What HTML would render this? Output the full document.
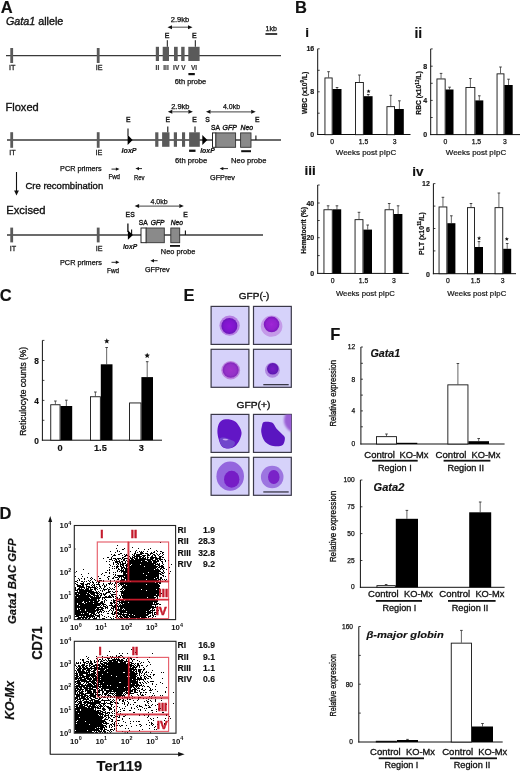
<!DOCTYPE html>
<html><head><meta charset="utf-8"><style>
html,body{margin:0;padding:0;background:#fff;}
svg{display:block;filter:blur(0.3px);}
text{font-family:"Liberation Sans", sans-serif;}
</style></head><body>
<svg width="520" height="773" viewBox="0 0 520 773">
<rect width="520" height="773" fill="#fff"/>
<text x="0.80" y="12.60" font-size="16.5" font-weight="bold" font-style="normal" text-anchor="start" fill="#111"  stroke="#111" stroke-width="0.15">A</text>
<text x="6" y="24.6" font-size="10.7" font-weight="normal" fill="#111" stroke="#111" stroke-width="0.35" textLength="57.3" lengthAdjust="spacingAndGlyphs"><tspan font-style="italic">Gata1</tspan> allele</text>
<line x1="6.00" y1="55.60" x2="281.00" y2="55.60" stroke="#3a3a3a" stroke-width="1.3" />
<rect x="10.30" y="48.00" width="2.80" height="15.00" fill="#5a5a5a" stroke="none" stroke-width="1" />
<rect x="96.80" y="48.00" width="2.80" height="15.00" fill="#5a5a5a" stroke="none" stroke-width="1" />
<rect x="155.80" y="46.80" width="3.20" height="14.20" fill="#5a5a5a" stroke="none" stroke-width="1" />
<rect x="162.70" y="46.80" width="6.30" height="14.20" fill="#5a5a5a" stroke="none" stroke-width="1" />
<rect x="174.00" y="46.80" width="3.70" height="14.20" fill="#5a5a5a" stroke="none" stroke-width="1" />
<rect x="181.20" y="46.80" width="3.40" height="14.20" fill="#5a5a5a" stroke="none" stroke-width="1" />
<rect x="188.30" y="46.80" width="11.30" height="14.20" fill="#5a5a5a" stroke="none" stroke-width="1" />
<line x1="167.30" y1="40.20" x2="167.30" y2="46.80" stroke="#111" stroke-width="1" />
<line x1="195.30" y1="40.20" x2="195.30" y2="46.80" stroke="#111" stroke-width="1" />
<text x="167.00" y="37.80" font-size="7" font-weight="normal" font-style="normal" text-anchor="middle" fill="#111" stroke="#111" stroke-width="0.35">E</text>
<text x="194.30" y="37.80" font-size="7" font-weight="normal" font-style="normal" text-anchor="middle" fill="#111" stroke="#111" stroke-width="0.35">E</text>
<line x1="172.00" y1="27.20" x2="188.00" y2="27.20" stroke="#666" stroke-width="1.2" />
<polygon points="167.50,27.20 172.00,25.20 172.00,29.20" fill="#111"/>
<polygon points="192.50,27.20 188.00,25.20 188.00,29.20" fill="#111"/>
<text x="180.00" y="22.00" font-size="6.8" font-weight="normal" font-style="normal" text-anchor="middle" fill="#111" textLength="18.5" lengthAdjust="spacingAndGlyphs" stroke="#111" stroke-width="0.25">2.9kb</text>
<text x="271.20" y="31.20" font-size="6.6" font-weight="normal" font-style="normal" text-anchor="middle" fill="#111" textLength="11.4" lengthAdjust="spacingAndGlyphs" stroke="#111" stroke-width="0.25">1kb</text>
<rect x="265.40" y="33.20" width="11.80" height="1.60" fill="#111" stroke="none" stroke-width="1" />
<text x="12.20" y="70.30" font-size="7.2" font-weight="normal" font-style="normal" text-anchor="middle" fill="#222" stroke="#222" stroke-width="0.3">IT</text>
<text x="99.10" y="70.30" font-size="7.2" font-weight="normal" font-style="normal" text-anchor="middle" fill="#222" stroke="#222" stroke-width="0.3">IE</text>
<text x="157.40" y="70.00" font-size="6.5" font-weight="bold" font-style="normal" text-anchor="middle" fill="#333"  stroke="#333" stroke-width="0.15">II</text>
<text x="166.00" y="70.00" font-size="6.5" font-weight="bold" font-style="normal" text-anchor="middle" fill="#333"  stroke="#333" stroke-width="0.15">III</text>
<text x="176.20" y="70.00" font-size="6.5" font-weight="bold" font-style="normal" text-anchor="middle" fill="#333"  stroke="#333" stroke-width="0.15">IV</text>
<text x="183.40" y="70.00" font-size="6.5" font-weight="bold" font-style="normal" text-anchor="middle" fill="#333"  stroke="#333" stroke-width="0.15">V</text>
<text x="194.00" y="70.00" font-size="6.5" font-weight="bold" font-style="normal" text-anchor="middle" fill="#333"  stroke="#333" stroke-width="0.15">VI</text>
<rect x="188.40" y="73.00" width="6.40" height="2.20" fill="#111" stroke="none" stroke-width="1" />
<text x="190.50" y="84.00" font-size="7.0" font-weight="normal" font-style="normal" text-anchor="middle" fill="#111" textLength="31.6" lengthAdjust="spacingAndGlyphs" stroke="#111" stroke-width="0.25">6th probe</text>
<text x="5.50" y="110.50" font-size="11" font-weight="normal" font-style="normal" text-anchor="start" fill="#111" textLength="33.2" lengthAdjust="spacingAndGlyphs" stroke="#111" stroke-width="0.35">Floxed</text>
<line x1="7.00" y1="140.00" x2="281.00" y2="140.00" stroke="#3a3a3a" stroke-width="1.3" />
<rect x="10.30" y="132.20" width="2.80" height="15.60" fill="#5a5a5a" stroke="none" stroke-width="1" />
<rect x="96.80" y="132.20" width="2.80" height="15.60" fill="#5a5a5a" stroke="none" stroke-width="1" />
<rect x="155.20" y="132.30" width="3.20" height="14.50" fill="#5a5a5a" stroke="none" stroke-width="1" />
<rect x="162.10" y="132.30" width="7.40" height="14.50" fill="#5a5a5a" stroke="none" stroke-width="1" />
<rect x="173.80" y="132.30" width="3.20" height="14.50" fill="#5a5a5a" stroke="none" stroke-width="1" />
<rect x="182.00" y="132.30" width="3.10" height="14.50" fill="#5a5a5a" stroke="none" stroke-width="1" />
<rect x="189.10" y="132.30" width="10.70" height="14.50" fill="#5a5a5a" stroke="none" stroke-width="1" />
<line x1="128.00" y1="128.50" x2="128.00" y2="135.50" stroke="#111" stroke-width="1.1" />
<line x1="167.80" y1="126.60" x2="167.80" y2="132.30" stroke="#111" stroke-width="1.1" />
<line x1="195.00" y1="126.60" x2="195.00" y2="132.30" stroke="#111" stroke-width="1.1" />
<polygon points="127.60,134.80 132.60,139.90 127.60,145.00" fill="#000"/>
<polygon points="202.30,135.00 207.30,140.00 202.30,145.00" fill="#000"/>
<text x="128.30" y="122.30" font-size="6.8" font-weight="normal" font-style="normal" text-anchor="middle" fill="#111" stroke="#111" stroke-width="0.35">E</text>
<text x="167.70" y="122.30" font-size="6.8" font-weight="normal" font-style="normal" text-anchor="middle" fill="#111" stroke="#111" stroke-width="0.35">E</text>
<text x="194.60" y="122.30" font-size="6.8" font-weight="normal" font-style="normal" text-anchor="middle" fill="#111" stroke="#111" stroke-width="0.35">E</text>
<text x="207.50" y="122.30" font-size="6.8" font-weight="normal" font-style="normal" text-anchor="middle" fill="#111" stroke="#111" stroke-width="0.35">S</text>
<text x="257.20" y="122.30" font-size="6.8" font-weight="normal" font-style="normal" text-anchor="middle" fill="#111" stroke="#111" stroke-width="0.35">E</text>
<rect x="212.50" y="132.90" width="3.40" height="14.40" fill="#fff" stroke="#111" stroke-width="0.9" />
<rect x="215.90" y="132.90" width="19.70" height="14.40" fill="#8a8a8a" stroke="#333" stroke-width="0.9" />
<rect x="240.60" y="132.90" width="10.40" height="14.40" fill="#8a8a8a" stroke="#333" stroke-width="0.9" />
<line x1="255.90" y1="135.60" x2="255.90" y2="140.00" stroke="#111" stroke-width="1.1" />
<line x1="172.30" y1="111.80" x2="188.40" y2="111.80" stroke="#666" stroke-width="1.2" />
<polygon points="167.80,111.80 172.30,109.80 172.30,113.80" fill="#111"/>
<polygon points="192.90,111.80 188.40,109.80 188.40,113.80" fill="#111"/>
<text x="180.30" y="108.50" font-size="6.8" font-weight="normal" font-style="normal" text-anchor="middle" fill="#111" textLength="18.2" lengthAdjust="spacingAndGlyphs" stroke="#111" stroke-width="0.25">2.9kb</text>
<line x1="210.50" y1="111.80" x2="251.20" y2="111.80" stroke="#666" stroke-width="1.2" />
<polygon points="206.00,111.80 210.50,109.80 210.50,113.80" fill="#111"/>
<polygon points="255.70,111.80 251.20,109.80 251.20,113.80" fill="#111"/>
<text x="231.50" y="108.50" font-size="6.8" font-weight="normal" font-style="normal" text-anchor="middle" fill="#111" textLength="17.2" lengthAdjust="spacingAndGlyphs" stroke="#111" stroke-width="0.25">4.0kb</text>
<text x="211.00" y="130.30" font-size="6.8" font-weight="normal" font-style="normal" text-anchor="start" fill="#111" textLength="9" lengthAdjust="spacingAndGlyphs" stroke="#111" stroke-width="0.35">SA</text>
<text x="222.50" y="130.30" font-size="6.8" font-weight="normal" font-style="italic" text-anchor="start" fill="#111" textLength="14.4" lengthAdjust="spacingAndGlyphs" stroke="#111" stroke-width="0.35">GFP</text>
<text x="240.60" y="130.30" font-size="6.8" font-weight="normal" font-style="italic" text-anchor="start" fill="#111" textLength="12.5" lengthAdjust="spacingAndGlyphs" stroke="#111" stroke-width="0.35">Neo</text>
<text x="121.60" y="152.50" font-size="7" font-weight="bold" font-style="italic" text-anchor="start" fill="#111" textLength="15" lengthAdjust="spacingAndGlyphs"  stroke="#111" stroke-width="0.15">loxP</text>
<text x="200.20" y="152.70" font-size="7" font-weight="bold" font-style="italic" text-anchor="start" fill="#111" textLength="14.6" lengthAdjust="spacingAndGlyphs"  stroke="#111" stroke-width="0.15">loxP</text>
<rect x="189.10" y="149.60" width="6.40" height="2.30" fill="#111" stroke="none" stroke-width="1" />
<text x="191.20" y="162.80" font-size="7.0" font-weight="normal" font-style="normal" text-anchor="middle" fill="#111" textLength="32.2" lengthAdjust="spacingAndGlyphs" stroke="#111" stroke-width="0.25">6th probe</text>
<rect x="241.20" y="150.20" width="9.80" height="2.00" fill="#111" stroke="none" stroke-width="1" />
<text x="248.80" y="162.80" font-size="7.0" font-weight="normal" font-style="normal" text-anchor="middle" fill="#111" textLength="35.4" lengthAdjust="spacingAndGlyphs" stroke="#111" stroke-width="0.25">Neo probe</text>
<text x="12.50" y="154.80" font-size="7.2" font-weight="normal" font-style="normal" text-anchor="middle" fill="#222" stroke="#222" stroke-width="0.3">IT</text>
<text x="98.80" y="154.80" font-size="7.2" font-weight="normal" font-style="normal" text-anchor="middle" fill="#222" stroke="#222" stroke-width="0.3">IE</text>
<text x="60.10" y="171.40" font-size="6.6" font-weight="normal" font-style="normal" text-anchor="start" fill="#111" textLength="41.5" lengthAdjust="spacingAndGlyphs" stroke="#111" stroke-width="0.25">PCR primers</text>
<line x1="111.50" y1="169.10" x2="116.50" y2="169.10" stroke="#111" stroke-width="0.9" />
<polygon points="119.50,169.10 115.90,167.40 115.90,170.80" fill="#111"/>
<text x="114.20" y="179.30" font-size="6.6" font-weight="normal" font-style="normal" text-anchor="middle" fill="#111" textLength="11.6" lengthAdjust="spacingAndGlyphs" stroke="#111" stroke-width="0.25">Fwd</text>
<line x1="138.40" y1="168.60" x2="142.00" y2="168.60" stroke="#111" stroke-width="0.9" />
<polygon points="135.40,168.60 139.00,166.90 139.00,170.30" fill="#111"/>
<text x="139.30" y="179.80" font-size="6.6" font-weight="normal" font-style="normal" text-anchor="middle" fill="#111" textLength="10.6" lengthAdjust="spacingAndGlyphs" stroke="#111" stroke-width="0.25">Rev</text>
<line x1="222.70" y1="168.60" x2="228.00" y2="168.60" stroke="#111" stroke-width="0.9" />
<polygon points="219.70,168.60 223.30,166.90 223.30,170.30" fill="#111"/>
<text x="222.50" y="180.30" font-size="6.6" font-weight="normal" font-style="normal" text-anchor="middle" fill="#111" textLength="25" lengthAdjust="spacingAndGlyphs" stroke="#111" stroke-width="0.25">GFPrev</text>
<line x1="16.50" y1="172.00" x2="16.50" y2="192.00" stroke="#111" stroke-width="1.1" />
<polygon points="16.50,195.50 14.10,190.50 18.90,190.50" fill="#111"/>
<text x="25.40" y="188.60" font-size="9.6" font-weight="normal" font-style="normal" text-anchor="start" fill="#111" textLength="77.8" lengthAdjust="spacingAndGlyphs" stroke="#111" stroke-width="0.35">Cre recombination</text>
<text x="6.30" y="214.40" font-size="11.5" font-weight="normal" font-style="normal" text-anchor="start" fill="#111" textLength="39.2" lengthAdjust="spacingAndGlyphs" stroke="#111" stroke-width="0.35">Excised</text>
<line x1="7.00" y1="235.00" x2="263.00" y2="235.00" stroke="#3a3a3a" stroke-width="1.3" />
<rect x="10.30" y="227.60" width="2.80" height="14.80" fill="#5a5a5a" stroke="none" stroke-width="1" />
<rect x="96.80" y="227.60" width="2.80" height="14.80" fill="#5a5a5a" stroke="none" stroke-width="1" />
<text x="12.90" y="251.40" font-size="7.2" font-weight="normal" font-style="normal" text-anchor="middle" fill="#222" stroke="#222" stroke-width="0.3">IT</text>
<text x="99.20" y="251.40" font-size="7.2" font-weight="normal" font-style="normal" text-anchor="middle" fill="#222" stroke="#222" stroke-width="0.3">IE</text>
<line x1="127.90" y1="223.50" x2="127.90" y2="232.00" stroke="#111" stroke-width="1.3" />
<line x1="131.60" y1="229.50" x2="131.60" y2="235.00" stroke="#111" stroke-width="1.1" />
<polygon points="127.90,230.20 132.90,235.00 127.90,239.80" fill="#000"/>
<text x="127.70" y="217.30" font-size="6.8" font-weight="normal" font-style="normal" text-anchor="middle" fill="#111" stroke="#111" stroke-width="0.35">E</text>
<text x="132.50" y="217.30" font-size="6.8" font-weight="normal" font-style="normal" text-anchor="middle" fill="#111" stroke="#111" stroke-width="0.35">S</text>
<text x="123.00" y="248.80" font-size="7" font-weight="bold" font-style="italic" text-anchor="start" fill="#111" textLength="14.2" lengthAdjust="spacingAndGlyphs"  stroke="#111" stroke-width="0.15">loxP</text>
<line x1="139.10" y1="206.10" x2="179.30" y2="206.10" stroke="#666" stroke-width="1.2" />
<polygon points="134.60,206.10 139.10,204.10 139.10,208.10" fill="#111"/>
<polygon points="183.80,206.10 179.30,204.10 179.30,208.10" fill="#111"/>
<text x="159.10" y="204.20" font-size="6.8" font-weight="normal" font-style="normal" text-anchor="middle" fill="#111" textLength="17.2" lengthAdjust="spacingAndGlyphs" stroke="#111" stroke-width="0.25">4.0kb</text>
<text x="185.60" y="217.30" font-size="6.8" font-weight="normal" font-style="normal" text-anchor="middle" fill="#111" stroke="#111" stroke-width="0.35">E</text>
<line x1="185.40" y1="230.40" x2="185.40" y2="235.00" stroke="#111" stroke-width="1.1" />
<rect x="141.00" y="228.00" width="5.20" height="14.70" fill="#fff" stroke="#111" stroke-width="0.9" />
<rect x="146.20" y="228.00" width="18.10" height="14.70" fill="#8a8a8a" stroke="#333" stroke-width="0.9" />
<rect x="170.80" y="228.00" width="8.90" height="14.70" fill="#8a8a8a" stroke="#333" stroke-width="0.9" />
<text x="138.80" y="225.00" font-size="6.8" font-weight="normal" font-style="normal" text-anchor="start" fill="#111" textLength="8.9" lengthAdjust="spacingAndGlyphs" stroke="#111" stroke-width="0.35">SA</text>
<text x="150.80" y="225.00" font-size="6.8" font-weight="normal" font-style="italic" text-anchor="start" fill="#111" textLength="13.8" lengthAdjust="spacingAndGlyphs" stroke="#111" stroke-width="0.35">GFP</text>
<text x="170.80" y="225.00" font-size="6.8" font-weight="normal" font-style="italic" text-anchor="start" fill="#111" textLength="12.2" lengthAdjust="spacingAndGlyphs" stroke="#111" stroke-width="0.35">Neo</text>
<rect x="170.00" y="245.00" width="10.00" height="1.80" fill="#111" stroke="none" stroke-width="1" />
<text x="178.10" y="254.20" font-size="7.0" font-weight="normal" font-style="normal" text-anchor="middle" fill="#111" textLength="34.6" lengthAdjust="spacingAndGlyphs" stroke="#111" stroke-width="0.25">Neo probe</text>
<text x="60.00" y="265.00" font-size="6.6" font-weight="normal" font-style="normal" text-anchor="start" fill="#111" textLength="41.8" lengthAdjust="spacingAndGlyphs" stroke="#111" stroke-width="0.25">PCR primers</text>
<line x1="111.50" y1="262.30" x2="116.40" y2="262.30" stroke="#111" stroke-width="0.9" />
<polygon points="119.40,262.30 115.80,260.60 115.80,264.00" fill="#111"/>
<text x="113.00" y="272.60" font-size="6.6" font-weight="normal" font-style="normal" text-anchor="middle" fill="#111" textLength="12" lengthAdjust="spacingAndGlyphs" stroke="#111" stroke-width="0.25">Fwd</text>
<line x1="153.40" y1="260.70" x2="157.60" y2="260.70" stroke="#111" stroke-width="0.9" />
<polygon points="150.40,260.70 154.00,259.00 154.00,262.40" fill="#111"/>
<text x="157.30" y="272.00" font-size="6.6" font-weight="normal" font-style="normal" text-anchor="middle" fill="#111" textLength="24.7" lengthAdjust="spacingAndGlyphs" stroke="#111" stroke-width="0.25">GFPrev</text>
<text x="295.00" y="12.80" font-size="16.5" font-weight="bold" font-style="normal" text-anchor="start" fill="#111"  stroke="#111" stroke-width="0.15">B</text>
<text x="305.20" y="36.90" font-size="13.5" font-weight="bold" font-style="normal" text-anchor="start" fill="#111"  stroke="#111" stroke-width="0.15">i</text>
<line x1="317.70" y1="48.80" x2="317.70" y2="135.00" stroke="#111" stroke-width="1" />
<line x1="317.20" y1="134.50" x2="410.50" y2="134.50" stroke="#111" stroke-width="1" />
<line x1="317.70" y1="48.80" x2="319.70" y2="48.80" stroke="#111" stroke-width="0.8" />
<line x1="317.70" y1="70.30" x2="319.70" y2="70.30" stroke="#111" stroke-width="0.8" />
<line x1="317.70" y1="91.80" x2="319.70" y2="91.80" stroke="#111" stroke-width="0.8" />
<line x1="317.70" y1="113.20" x2="319.70" y2="113.20" stroke="#111" stroke-width="0.8" />
<text x="314.20" y="51.32" font-size="7" font-weight="bold" font-style="normal" text-anchor="end" fill="#111"  stroke="#111" stroke-width="0.15">16</text>
<text x="314.20" y="94.32" font-size="7" font-weight="bold" font-style="normal" text-anchor="end" fill="#111"  stroke="#111" stroke-width="0.15">8</text>
<text x="314.20" y="137.22" font-size="7" font-weight="bold" font-style="normal" text-anchor="end" fill="#111"  stroke="#111" stroke-width="0.15">0</text>
<line x1="328.55" y1="71.70" x2="328.55" y2="77.50" stroke="#555" stroke-width="0.9" />
<line x1="327.25" y1="71.70" x2="329.85" y2="71.70" stroke="#333" stroke-width="0.9" />
<rect x="324.95" y="77.95" width="7.20" height="56.75" fill="#fff" stroke="#111" stroke-width="0.9" />
<line x1="337.05" y1="87.50" x2="337.05" y2="89.00" stroke="#555" stroke-width="0.9" />
<line x1="335.75" y1="87.50" x2="338.35" y2="87.50" stroke="#333" stroke-width="0.9" />
<rect x="332.60" y="89.00" width="8.90" height="45.70" fill="#000" stroke="none" stroke-width="1" />
<line x1="359.40" y1="75.00" x2="359.40" y2="82.00" stroke="#555" stroke-width="0.9" />
<line x1="358.10" y1="75.00" x2="360.70" y2="75.00" stroke="#333" stroke-width="0.9" />
<rect x="355.45" y="82.45" width="7.90" height="52.25" fill="#fff" stroke="#111" stroke-width="0.9" />
<line x1="368.20" y1="94.50" x2="368.20" y2="96.20" stroke="#555" stroke-width="0.9" />
<line x1="366.90" y1="94.50" x2="369.50" y2="94.50" stroke="#333" stroke-width="0.9" />
<rect x="363.80" y="96.20" width="8.80" height="38.50" fill="#000" stroke="none" stroke-width="1" />
<line x1="390.75" y1="95.30" x2="390.75" y2="106.20" stroke="#555" stroke-width="0.9" />
<line x1="389.45" y1="95.30" x2="392.05" y2="95.30" stroke="#333" stroke-width="0.9" />
<rect x="386.95" y="106.65" width="7.60" height="28.05" fill="#fff" stroke="#111" stroke-width="0.9" />
<line x1="399.40" y1="100.80" x2="399.40" y2="109.00" stroke="#555" stroke-width="0.9" />
<line x1="398.10" y1="100.80" x2="400.70" y2="100.80" stroke="#333" stroke-width="0.9" />
<rect x="395.00" y="109.00" width="8.80" height="25.70" fill="#000" stroke="none" stroke-width="1" />
<polygon points="368.60,89.20 369.16,90.54 370.60,90.65 369.50,91.59 369.83,93.00 368.60,92.24 367.37,93.00 367.70,91.59 366.60,90.65 368.04,90.54" fill="#111"/>
<text x="332.10" y="143.70" font-size="6.8" font-weight="normal" font-style="normal" text-anchor="middle" fill="#111" stroke="#111" stroke-width="0.25">0</text>
<text x="363.50" y="143.70" font-size="6.8" font-weight="normal" font-style="normal" text-anchor="middle" fill="#111" stroke="#111" stroke-width="0.25">1.5</text>
<text x="394.70" y="143.70" font-size="6.8" font-weight="normal" font-style="normal" text-anchor="middle" fill="#111" stroke="#111" stroke-width="0.25">3</text>
<text x="366.00" y="154.90" font-size="8.0" font-weight="normal" font-style="normal" text-anchor="middle" fill="#111" textLength="60.3" lengthAdjust="spacingAndGlyphs" stroke="#111" stroke-width="0.2">Weeks post pIpC</text>
<text transform="translate(306.60,92.90) rotate(-90)" font-size="6.75" font-weight="bold" font-style="normal" text-anchor="middle" fill="#111" stroke="#111" stroke-width="0.2">WBC (x10<tspan font-size="4.5" dy="-2.5">9</tspan><tspan dy="2.5">/L)</tspan></text>
<text x="414.50" y="38.10" font-size="13.8" font-weight="bold" font-style="normal" text-anchor="start" fill="#111"  stroke="#111" stroke-width="0.15">ii</text>
<line x1="430.70" y1="48.90" x2="430.70" y2="135.10" stroke="#111" stroke-width="1" />
<line x1="430.20" y1="134.60" x2="520.00" y2="134.60" stroke="#111" stroke-width="1" />
<line x1="430.70" y1="48.90" x2="432.70" y2="48.90" stroke="#111" stroke-width="0.8" />
<line x1="430.70" y1="66.20" x2="432.70" y2="66.20" stroke="#111" stroke-width="0.8" />
<line x1="430.70" y1="83.30" x2="432.70" y2="83.30" stroke="#111" stroke-width="0.8" />
<line x1="430.70" y1="100.40" x2="432.70" y2="100.40" stroke="#111" stroke-width="0.8" />
<line x1="430.70" y1="117.50" x2="432.70" y2="117.50" stroke="#111" stroke-width="0.8" />
<text x="427.20" y="68.72" font-size="7" font-weight="bold" font-style="normal" text-anchor="end" fill="#111"  stroke="#111" stroke-width="0.15">8</text>
<text x="427.20" y="102.92" font-size="7" font-weight="bold" font-style="normal" text-anchor="end" fill="#111"  stroke="#111" stroke-width="0.15">4</text>
<text x="427.20" y="137.12" font-size="7" font-weight="bold" font-style="normal" text-anchor="end" fill="#111"  stroke="#111" stroke-width="0.15">0</text>
<line x1="441.05" y1="73.40" x2="441.05" y2="78.50" stroke="#555" stroke-width="0.9" />
<line x1="439.75" y1="73.40" x2="442.35" y2="73.40" stroke="#333" stroke-width="0.9" />
<rect x="436.95" y="78.95" width="8.20" height="55.65" fill="#fff" stroke="#111" stroke-width="0.9" />
<line x1="449.55" y1="87.20" x2="449.55" y2="89.50" stroke="#555" stroke-width="0.9" />
<line x1="448.25" y1="87.20" x2="450.85" y2="87.20" stroke="#333" stroke-width="0.9" />
<rect x="445.60" y="89.50" width="7.90" height="45.10" fill="#000" stroke="none" stroke-width="1" />
<line x1="470.40" y1="78.50" x2="470.40" y2="87.00" stroke="#555" stroke-width="0.9" />
<line x1="469.10" y1="78.50" x2="471.70" y2="78.50" stroke="#333" stroke-width="0.9" />
<rect x="465.95" y="87.45" width="8.90" height="47.15" fill="#fff" stroke="#111" stroke-width="0.9" />
<line x1="479.30" y1="95.80" x2="479.30" y2="100.40" stroke="#555" stroke-width="0.9" />
<line x1="478.00" y1="95.80" x2="480.60" y2="95.80" stroke="#333" stroke-width="0.9" />
<rect x="475.30" y="100.40" width="8.00" height="34.20" fill="#000" stroke="none" stroke-width="1" />
<line x1="500.50" y1="67.00" x2="500.50" y2="73.40" stroke="#555" stroke-width="0.9" />
<line x1="499.20" y1="67.00" x2="501.80" y2="67.00" stroke="#333" stroke-width="0.9" />
<rect x="497.05" y="73.85" width="6.90" height="60.75" fill="#fff" stroke="#111" stroke-width="0.9" />
<line x1="508.55" y1="79.20" x2="508.55" y2="85.00" stroke="#555" stroke-width="0.9" />
<line x1="507.25" y1="79.20" x2="509.85" y2="79.20" stroke="#333" stroke-width="0.9" />
<rect x="504.40" y="85.00" width="8.30" height="49.60" fill="#000" stroke="none" stroke-width="1" />
<text x="445.40" y="143.70" font-size="6.8" font-weight="normal" font-style="normal" text-anchor="middle" fill="#111" stroke="#111" stroke-width="0.25">0</text>
<text x="476.40" y="143.70" font-size="6.8" font-weight="normal" font-style="normal" text-anchor="middle" fill="#111" stroke="#111" stroke-width="0.25">1.5</text>
<text x="504.90" y="143.70" font-size="6.8" font-weight="normal" font-style="normal" text-anchor="middle" fill="#111" stroke="#111" stroke-width="0.25">3</text>
<text x="476.00" y="154.90" font-size="8.0" font-weight="normal" font-style="normal" text-anchor="middle" fill="#111" textLength="60.3" lengthAdjust="spacingAndGlyphs" stroke="#111" stroke-width="0.2">Weeks post pIpC</text>
<text transform="translate(421.40,93.00) rotate(-90)" font-size="6.75" font-weight="bold" font-style="normal" text-anchor="middle" fill="#111" stroke="#111" stroke-width="0.2">RBC (x10<tspan font-size="4.5" dy="-2.5">12</tspan><tspan dy="2.5">/L)</tspan></text>
<text x="304.50" y="175.40" font-size="13.5" font-weight="bold" font-style="normal" text-anchor="start" fill="#111"  stroke="#111" stroke-width="0.15">iii</text>
<line x1="317.70" y1="185.00" x2="317.70" y2="273.90" stroke="#111" stroke-width="1" />
<line x1="317.20" y1="273.40" x2="408.80" y2="273.40" stroke="#111" stroke-width="1" />
<line x1="317.70" y1="185.00" x2="319.70" y2="185.00" stroke="#111" stroke-width="0.8" />
<line x1="317.70" y1="203.00" x2="319.70" y2="203.00" stroke="#111" stroke-width="0.8" />
<line x1="317.70" y1="220.50" x2="319.70" y2="220.50" stroke="#111" stroke-width="0.8" />
<line x1="317.70" y1="237.70" x2="319.70" y2="237.70" stroke="#111" stroke-width="0.8" />
<line x1="317.70" y1="255.60" x2="319.70" y2="255.60" stroke="#111" stroke-width="0.8" />
<text x="314.20" y="205.52" font-size="7" font-weight="bold" font-style="normal" text-anchor="end" fill="#111"  stroke="#111" stroke-width="0.15">40</text>
<text x="314.20" y="240.22" font-size="7" font-weight="bold" font-style="normal" text-anchor="end" fill="#111"  stroke="#111" stroke-width="0.15">20</text>
<text x="314.20" y="276.02" font-size="7" font-weight="bold" font-style="normal" text-anchor="end" fill="#111"  stroke="#111" stroke-width="0.15">0</text>
<line x1="328.10" y1="205.80" x2="328.10" y2="209.30" stroke="#555" stroke-width="0.9" />
<line x1="326.80" y1="205.80" x2="329.40" y2="205.80" stroke="#333" stroke-width="0.9" />
<rect x="323.95" y="209.75" width="8.30" height="63.75" fill="#fff" stroke="#111" stroke-width="0.9" />
<line x1="336.95" y1="205.80" x2="336.95" y2="209.30" stroke="#555" stroke-width="0.9" />
<line x1="335.65" y1="205.80" x2="338.25" y2="205.80" stroke="#333" stroke-width="0.9" />
<rect x="332.70" y="209.30" width="8.50" height="64.20" fill="#000" stroke="none" stroke-width="1" />
<line x1="359.00" y1="212.30" x2="359.00" y2="219.20" stroke="#555" stroke-width="0.9" />
<line x1="357.70" y1="212.30" x2="360.30" y2="212.30" stroke="#333" stroke-width="0.9" />
<rect x="355.05" y="219.65" width="7.90" height="53.85" fill="#fff" stroke="#111" stroke-width="0.9" />
<line x1="367.70" y1="225.00" x2="367.70" y2="229.60" stroke="#555" stroke-width="0.9" />
<line x1="366.40" y1="225.00" x2="369.00" y2="225.00" stroke="#333" stroke-width="0.9" />
<rect x="363.40" y="229.60" width="8.60" height="43.90" fill="#000" stroke="none" stroke-width="1" />
<line x1="389.20" y1="203.50" x2="389.20" y2="209.30" stroke="#555" stroke-width="0.9" />
<line x1="387.90" y1="203.50" x2="390.50" y2="203.50" stroke="#333" stroke-width="0.9" />
<rect x="385.05" y="209.75" width="8.30" height="63.75" fill="#fff" stroke="#111" stroke-width="0.9" />
<line x1="398.10" y1="205.80" x2="398.10" y2="214.00" stroke="#555" stroke-width="0.9" />
<line x1="396.80" y1="205.80" x2="399.40" y2="205.80" stroke="#333" stroke-width="0.9" />
<rect x="393.80" y="214.00" width="8.60" height="59.50" fill="#000" stroke="none" stroke-width="1" />
<text x="332.70" y="282.70" font-size="6.8" font-weight="normal" font-style="normal" text-anchor="middle" fill="#111" stroke="#111" stroke-width="0.25">0</text>
<text x="363.50" y="282.70" font-size="6.8" font-weight="normal" font-style="normal" text-anchor="middle" fill="#111" stroke="#111" stroke-width="0.25">1.5</text>
<text x="393.80" y="282.70" font-size="6.8" font-weight="normal" font-style="normal" text-anchor="middle" fill="#111" stroke="#111" stroke-width="0.25">3</text>
<text x="365.40" y="296.20" font-size="8.0" font-weight="normal" font-style="normal" text-anchor="middle" fill="#111" textLength="58.9" lengthAdjust="spacingAndGlyphs" stroke="#111" stroke-width="0.2">Weeks post pIpC</text>
<text transform="translate(306.00,230.40) rotate(-90)" font-size="6.6" font-weight="bold" font-style="normal" text-anchor="middle" fill="#111" textLength="46.7" lengthAdjust="spacingAndGlyphs" stroke="#111" stroke-width="0.2">Hematocrit (%)</text>
<text x="412.30" y="175.80" font-size="13.5" font-weight="bold" font-style="normal" text-anchor="start" fill="#111"  stroke="#111" stroke-width="0.15">iv</text>
<line x1="433.40" y1="183.60" x2="433.40" y2="274.20" stroke="#111" stroke-width="1" />
<line x1="432.90" y1="273.70" x2="516.00" y2="273.70" stroke="#111" stroke-width="1" />
<line x1="433.40" y1="183.60" x2="435.40" y2="183.60" stroke="#111" stroke-width="0.8" />
<line x1="433.40" y1="206.10" x2="435.40" y2="206.10" stroke="#111" stroke-width="0.8" />
<line x1="433.40" y1="228.50" x2="435.40" y2="228.50" stroke="#111" stroke-width="0.8" />
<line x1="433.40" y1="250.90" x2="435.40" y2="250.90" stroke="#111" stroke-width="0.8" />
<text x="429.90" y="186.32" font-size="7" font-weight="bold" font-style="normal" text-anchor="end" fill="#111"  stroke="#111" stroke-width="0.15">12</text>
<text x="429.90" y="231.92" font-size="7" font-weight="bold" font-style="normal" text-anchor="end" fill="#111"  stroke="#111" stroke-width="0.15">6</text>
<text x="429.90" y="277.32" font-size="7" font-weight="bold" font-style="normal" text-anchor="end" fill="#111"  stroke="#111" stroke-width="0.15">0</text>
<line x1="442.95" y1="197.30" x2="442.95" y2="206.50" stroke="#555" stroke-width="0.9" />
<line x1="441.65" y1="197.30" x2="444.25" y2="197.30" stroke="#333" stroke-width="0.9" />
<rect x="439.05" y="206.95" width="7.80" height="66.75" fill="#fff" stroke="#111" stroke-width="0.9" />
<line x1="451.35" y1="215.80" x2="451.35" y2="223.20" stroke="#555" stroke-width="0.9" />
<line x1="450.05" y1="215.80" x2="452.65" y2="215.80" stroke="#333" stroke-width="0.9" />
<rect x="447.30" y="223.20" width="8.10" height="50.50" fill="#000" stroke="none" stroke-width="1" />
<line x1="471.00" y1="203.50" x2="471.00" y2="207.20" stroke="#555" stroke-width="0.9" />
<line x1="469.70" y1="203.50" x2="472.30" y2="203.50" stroke="#333" stroke-width="0.9" />
<rect x="467.45" y="207.65" width="7.10" height="66.05" fill="#fff" stroke="#111" stroke-width="0.9" />
<line x1="479.00" y1="241.60" x2="479.00" y2="247.00" stroke="#555" stroke-width="0.9" />
<line x1="477.70" y1="241.60" x2="480.30" y2="241.60" stroke="#333" stroke-width="0.9" />
<rect x="475.00" y="247.00" width="8.00" height="26.70" fill="#000" stroke="none" stroke-width="1" />
<line x1="498.90" y1="193.00" x2="498.90" y2="207.20" stroke="#555" stroke-width="0.9" />
<line x1="497.60" y1="193.00" x2="500.20" y2="193.00" stroke="#333" stroke-width="0.9" />
<rect x="495.05" y="207.65" width="7.70" height="66.05" fill="#fff" stroke="#111" stroke-width="0.9" />
<line x1="507.20" y1="243.50" x2="507.20" y2="248.80" stroke="#555" stroke-width="0.9" />
<line x1="505.90" y1="243.50" x2="508.50" y2="243.50" stroke="#333" stroke-width="0.9" />
<rect x="503.20" y="248.80" width="8.00" height="24.90" fill="#000" stroke="none" stroke-width="1" />
<polygon points="479.10,236.10 479.66,237.44 481.10,237.55 480.00,238.49 480.33,239.90 479.10,239.14 477.87,239.90 478.20,238.49 477.10,237.55 478.54,237.44" fill="#111"/>
<polygon points="506.80,237.00 507.36,238.34 508.80,238.45 507.70,239.39 508.03,240.80 506.80,240.04 505.57,240.80 505.90,239.39 504.80,238.45 506.24,238.34" fill="#111"/>
<text x="447.90" y="283.00" font-size="6.8" font-weight="normal" font-style="normal" text-anchor="middle" fill="#111" stroke="#111" stroke-width="0.25">0</text>
<text x="475.60" y="283.00" font-size="6.8" font-weight="normal" font-style="normal" text-anchor="middle" fill="#111" stroke="#111" stroke-width="0.25">1.5</text>
<text x="502.70" y="283.00" font-size="6.8" font-weight="normal" font-style="normal" text-anchor="middle" fill="#111" stroke="#111" stroke-width="0.25">3</text>
<text x="476.80" y="296.20" font-size="8.0" font-weight="normal" font-style="normal" text-anchor="middle" fill="#111" textLength="58.9" lengthAdjust="spacingAndGlyphs" stroke="#111" stroke-width="0.2">Weeks post pIpC</text>
<text transform="translate(423.50,233.50) rotate(-90)" font-size="7.1" font-weight="bold" font-style="normal" text-anchor="middle" fill="#111" stroke="#111" stroke-width="0.2">PLT (x10<tspan font-size="4.8" dy="-2.5">11</tspan><tspan dy="2.5">/L)</tspan></text>
<text x="-0.20" y="300.70" font-size="16.5" font-weight="bold" font-style="normal" text-anchor="start" fill="#111"  stroke="#111" stroke-width="0.15">C</text>
<line x1="42.40" y1="340.40" x2="42.40" y2="440.70" stroke="#111" stroke-width="1" />
<line x1="41.90" y1="440.20" x2="162.00" y2="440.20" stroke="#111" stroke-width="1" />
<line x1="42.40" y1="340.40" x2="44.40" y2="340.40" stroke="#111" stroke-width="0.8" />
<line x1="42.40" y1="360.50" x2="44.40" y2="360.50" stroke="#111" stroke-width="0.8" />
<line x1="42.40" y1="380.40" x2="44.40" y2="380.40" stroke="#111" stroke-width="0.8" />
<line x1="42.40" y1="400.40" x2="44.40" y2="400.40" stroke="#111" stroke-width="0.8" />
<line x1="42.40" y1="420.30" x2="44.40" y2="420.30" stroke="#111" stroke-width="0.8" />
<text x="38.90" y="363.79" font-size="8.3" font-weight="bold" font-style="normal" text-anchor="end" fill="#111"  stroke="#111" stroke-width="0.15">8</text>
<text x="38.90" y="404.19" font-size="8.3" font-weight="bold" font-style="normal" text-anchor="end" fill="#111"  stroke="#111" stroke-width="0.15">4</text>
<text x="38.90" y="444.29" font-size="8.3" font-weight="bold" font-style="normal" text-anchor="end" fill="#111"  stroke="#111" stroke-width="0.15">0</text>
<line x1="55.40" y1="401.00" x2="55.40" y2="404.30" stroke="#555" stroke-width="0.9" />
<line x1="54.10" y1="401.00" x2="56.70" y2="401.00" stroke="#333" stroke-width="0.9" />
<rect x="50.75" y="404.75" width="9.30" height="35.45" fill="#fff" stroke="#111" stroke-width="0.9" />
<line x1="66.35" y1="400.20" x2="66.35" y2="406.00" stroke="#555" stroke-width="0.9" />
<line x1="65.05" y1="400.20" x2="67.65" y2="400.20" stroke="#333" stroke-width="0.9" />
<rect x="60.50" y="406.00" width="11.70" height="34.20" fill="#000" stroke="none" stroke-width="1" />
<line x1="95.40" y1="392.00" x2="95.40" y2="396.30" stroke="#555" stroke-width="0.9" />
<line x1="94.10" y1="392.00" x2="96.70" y2="392.00" stroke="#333" stroke-width="0.9" />
<rect x="90.45" y="396.75" width="9.90" height="43.45" fill="#fff" stroke="#111" stroke-width="0.9" />
<line x1="106.65" y1="347.50" x2="106.65" y2="364.30" stroke="#555" stroke-width="0.9" />
<line x1="105.35" y1="347.50" x2="107.95" y2="347.50" stroke="#333" stroke-width="0.9" />
<rect x="100.80" y="364.30" width="11.70" height="75.90" fill="#000" stroke="none" stroke-width="1" />
<rect x="129.55" y="402.95" width="11.40" height="37.25" fill="#fff" stroke="#111" stroke-width="0.9" />
<line x1="147.20" y1="361.70" x2="147.20" y2="377.10" stroke="#555" stroke-width="0.9" />
<line x1="145.90" y1="361.70" x2="148.50" y2="361.70" stroke="#333" stroke-width="0.9" />
<rect x="141.40" y="377.10" width="11.60" height="63.10" fill="#000" stroke="none" stroke-width="1" />
<polygon points="106.80,338.30 107.57,340.14 109.56,340.30 108.04,341.60 108.50,343.55 106.80,342.50 105.10,343.55 105.56,341.60 104.04,340.30 106.03,340.14" fill="#111"/>
<polygon points="147.20,352.70 147.97,354.54 149.96,354.70 148.44,356.00 148.90,357.95 147.20,356.91 145.50,357.95 145.96,356.00 144.44,354.70 146.43,354.54" fill="#111"/>
<text x="60.00" y="450.60" font-size="9.2" font-weight="bold" font-style="normal" text-anchor="middle" fill="#111"  stroke="#111" stroke-width="0.15">0</text>
<text x="100.40" y="450.60" font-size="9.2" font-weight="bold" font-style="normal" text-anchor="middle" fill="#111"  stroke="#111" stroke-width="0.15">1.5</text>
<text x="141.40" y="450.60" font-size="9.2" font-weight="bold" font-style="normal" text-anchor="middle" fill="#111"  stroke="#111" stroke-width="0.15">3</text>
<text transform="translate(26.40,391.30) rotate(-90)" font-size="9.4" font-weight="normal" font-style="normal" text-anchor="middle" fill="#111" textLength="89" lengthAdjust="spacingAndGlyphs" stroke="#111" stroke-width="0.3">Reticulocyte counts (%)</text>
<text x="183.50" y="300.80" font-size="16.5" font-weight="bold" font-style="normal" text-anchor="start" fill="#111"  stroke="#111" stroke-width="0.15">E</text>
<text x="238.80" y="298.80" font-size="9.8" font-weight="normal" font-style="normal" text-anchor="start" fill="#111" textLength="30.6" lengthAdjust="spacingAndGlyphs" stroke="#111" stroke-width="0.35">GFP(-)</text>
<text x="236.50" y="408.30" font-size="9.8" font-weight="normal" font-style="normal" text-anchor="start" fill="#111" textLength="33.9" lengthAdjust="spacingAndGlyphs" stroke="#111" stroke-width="0.35">GFP(+)</text>
<defs><filter id="bl" x="-50%" y="-50%" width="200%" height="200%"><feGaussianBlur stdDeviation="0.6"/></filter><filter id="bl2" x="-50%" y="-50%" width="200%" height="200%"><feGaussianBlur stdDeviation="1.0"/></filter><clipPath id="cb6"><rect x="253.5" y="414.4" width="37.8" height="38"/></clipPath></defs>
<rect x="211.10" y="306.40" width="37.80" height="38.00" fill="#d6d2fa" stroke="#3a3848" stroke-width="1.2" />
<rect x="253.50" y="306.40" width="37.80" height="38.00" fill="#d6d2fa" stroke="#3a3848" stroke-width="1.2" />
<rect x="211.10" y="349.30" width="37.80" height="38.00" fill="#d6d2fa" stroke="#3a3848" stroke-width="1.2" />
<rect x="253.50" y="349.30" width="37.80" height="38.00" fill="#d6d2fa" stroke="#3a3848" stroke-width="1.2" />
<rect x="211.10" y="414.40" width="37.80" height="38.00" fill="#d6d2fa" stroke="#3a3848" stroke-width="1.2" />
<rect x="253.50" y="414.40" width="37.80" height="38.00" fill="#d6d2fa" stroke="#3a3848" stroke-width="1.2" />
<rect x="211.10" y="457.30" width="37.80" height="38.00" fill="#d6d2fa" stroke="#3a3848" stroke-width="1.2" />
<rect x="253.50" y="457.30" width="37.80" height="38.00" fill="#d6d2fa" stroke="#3a3848" stroke-width="1.2" />
<defs><radialGradient id="n1"><stop offset="0" stop-color="#8e18d8"/><stop offset="0.7" stop-color="#7e16cc"/><stop offset="1" stop-color="#6a18b8"/></radialGradient><radialGradient id="n2"><stop offset="0" stop-color="#a026d6"/><stop offset="0.7" stop-color="#9020cc"/><stop offset="1" stop-color="#7a1cbc"/></radialGradient><radialGradient id="n3"><stop offset="0" stop-color="#a034cc"/><stop offset="0.7" stop-color="#9430c8"/><stop offset="1" stop-color="#8028b8"/></radialGradient><radialGradient id="n4"><stop offset="0" stop-color="#7a20c8"/><stop offset="1" stop-color="#5c18b0"/></radialGradient></defs>
<ellipse cx="229.6" cy="325.6" rx="10.2" ry="10.2" fill="#b680e2" filter="url(#bl)" />
<ellipse cx="229.4" cy="326" rx="8" ry="8" fill="url(#n1)" filter="url(#bl)" />
<ellipse cx="271.6" cy="326.2" rx="10.8" ry="10.6" fill="#c49ae8" filter="url(#bl)" />
<ellipse cx="271.6" cy="324.4" rx="7.8" ry="7.8" fill="url(#n2)" filter="url(#bl)" />
<ellipse cx="230.7" cy="370.2" rx="9.4" ry="9.2" fill="#bc84de" filter="url(#bl)" />
<ellipse cx="230.7" cy="370.0" rx="8" ry="7.8" fill="url(#n3)" filter="url(#bl)" />
<ellipse cx="272.4" cy="370.2" rx="7.4" ry="7.6" fill="#b088e0" filter="url(#bl)" />
<ellipse cx="272.8" cy="368.8" rx="5.8" ry="5.8" fill="url(#n4)" filter="url(#bl)" />
<path d="M225.60,419.30C228.18,419.13 232.50,419.68 235.10,421.60C237.70,423.52 240.32,428.05 241.20,430.80C242.08,433.55 241.28,435.67 240.40,438.10C239.52,440.53 237.88,443.67 235.90,445.40C233.92,447.13 230.82,448.33 228.50,448.50C226.18,448.67 223.62,447.88 222.00,446.40C220.38,444.92 219.57,442.20 218.80,439.60C218.03,437.00 217.27,433.63 217.40,430.80C217.53,427.97 218.23,424.52 219.60,422.60C220.97,420.68 223.02,419.47 225.60,419.30Z" fill="#6212c6" filter="url(#bl)"/>
<path d="M219.50,439.00C219.92,437.68 222.25,437.52 224.00,437.60C225.75,437.68 228.17,438.68 230.00,439.50C231.83,440.32 234.67,441.17 235.00,442.50C235.33,443.83 233.50,446.58 232.00,447.50C230.50,448.42 227.75,448.33 226.00,448.00C224.25,447.67 222.58,447.00 221.50,445.50C220.42,444.00 219.08,440.32 219.50,439.00Z" fill="#7046cc" filter="url(#bl)"/>
<path d="M222.5,439.3 C224.5,438.5 227,438.8 228.5,439.8 C226.5,440.8 224,440.7 222.5,439.3 Z" fill="#c8a8ee" filter="url(#bl)"/>
<g clip-path="url(#cb6)"><circle cx="297" cy="420" r="13" fill="#9a5ed6" filter="url(#bl2)"/></g>
<path d="M264.00,422.00C265.67,421.48 269.93,421.53 272.00,422.60C274.07,423.67 274.70,426.45 276.40,428.40C278.10,430.35 280.78,432.68 282.20,434.30C283.62,435.92 284.77,436.37 284.90,438.10C285.03,439.83 284.30,443.33 283.00,444.70C281.70,446.07 279.42,446.30 277.10,446.30C274.78,446.30 271.28,445.70 269.10,444.70C266.92,443.70 265.30,442.37 264.00,440.30C262.70,438.23 261.63,434.73 261.30,432.30C260.97,429.87 261.55,427.42 262.00,425.70C262.45,423.98 262.33,422.52 264.00,422.00Z" fill="#5a16c0" filter="url(#bl)"/>
<ellipse cx="230.2" cy="476.2" rx="13.8" ry="14.6" fill="#9466de" filter="url(#bl)" />
<ellipse cx="231.7" cy="479.3" rx="7.7" ry="8.5" fill="#761cc6" filter="url(#bl)" />
<ellipse cx="272.2" cy="477" rx="11.3" ry="11.3" fill="#9c74e0" filter="url(#bl)" />
<ellipse cx="273.8" cy="477" rx="5.8" ry="7" fill="#7a20c8" filter="url(#bl)" />
<rect x="263.30" y="384.00" width="25.40" height="1.30" fill="#3a3848" stroke="none" stroke-width="1" />
<rect x="263.30" y="491.30" width="25.40" height="1.30" fill="#3a3848" stroke="none" stroke-width="1" />
<text x="330.30" y="339.50" font-size="16.5" font-weight="bold" font-style="normal" text-anchor="start" fill="#111"  stroke="#111" stroke-width="0.15">F</text>
<line x1="360.90" y1="347.00" x2="360.90" y2="444.50" stroke="#111" stroke-width="1" />
<line x1="360.40" y1="444.00" x2="504.60" y2="444.00" stroke="#111" stroke-width="1" />
<line x1="360.90" y1="347.00" x2="362.90" y2="347.00" stroke="#111" stroke-width="0.8" />
<line x1="360.90" y1="363.30" x2="362.90" y2="363.30" stroke="#111" stroke-width="0.8" />
<line x1="360.90" y1="379.20" x2="362.90" y2="379.20" stroke="#111" stroke-width="0.8" />
<line x1="360.90" y1="395.10" x2="362.90" y2="395.10" stroke="#111" stroke-width="0.8" />
<line x1="360.90" y1="410.90" x2="362.90" y2="410.90" stroke="#111" stroke-width="0.8" />
<line x1="360.90" y1="426.80" x2="362.90" y2="426.80" stroke="#111" stroke-width="0.8" />
<text x="355.10" y="348.88" font-size="6.6" font-weight="normal" font-style="normal" text-anchor="end" fill="#111" stroke="#111" stroke-width="0.25">12</text>
<text x="355.10" y="381.58" font-size="6.6" font-weight="normal" font-style="normal" text-anchor="end" fill="#111" stroke="#111" stroke-width="0.25">8</text>
<text x="355.10" y="413.18" font-size="6.6" font-weight="normal" font-style="normal" text-anchor="end" fill="#111" stroke="#111" stroke-width="0.25">4</text>
<text x="355.10" y="445.68" font-size="6.6" font-weight="normal" font-style="normal" text-anchor="end" fill="#111" stroke="#111" stroke-width="0.25">0</text>
<text x="370.50" y="357.30" font-size="10.6" font-weight="bold" font-style="italic" text-anchor="start" fill="#111" textLength="29.8" lengthAdjust="spacingAndGlyphs"  stroke="#111" stroke-width="0.15">Gata1</text>
<line x1="386.50" y1="434.00" x2="386.50" y2="436.20" stroke="#555" stroke-width="0.9" />
<line x1="385.20" y1="434.00" x2="387.80" y2="434.00" stroke="#333" stroke-width="0.9" />
<rect x="376.55" y="436.65" width="19.90" height="7.35" fill="#fff" stroke="#111" stroke-width="0.9" />
<rect x="396.90" y="442.80" width="20.40" height="1.20" fill="#000" stroke="none" stroke-width="1" />
<line x1="457.90" y1="363.50" x2="457.90" y2="384.40" stroke="#555" stroke-width="0.9" />
<line x1="456.60" y1="363.50" x2="459.20" y2="363.50" stroke="#333" stroke-width="0.9" />
<rect x="447.85" y="384.85" width="20.10" height="59.15" fill="#fff" stroke="#111" stroke-width="0.9" />
<line x1="478.70" y1="438.50" x2="478.70" y2="441.20" stroke="#555" stroke-width="0.9" />
<line x1="477.40" y1="438.50" x2="480.00" y2="438.50" stroke="#333" stroke-width="0.9" />
<rect x="468.40" y="441.20" width="20.60" height="2.80" fill="#000" stroke="none" stroke-width="1" />
<text x="364.30" y="457.50" font-size="8.6" font-weight="normal" font-style="normal" text-anchor="start" fill="#111" textLength="30.6" lengthAdjust="spacingAndGlyphs" stroke="#111" stroke-width="0.3">Control</text>
<text x="399.50" y="457.50" font-size="8.6" font-weight="normal" font-style="normal" text-anchor="start" fill="#111" textLength="28.9" lengthAdjust="spacingAndGlyphs" stroke="#111" stroke-width="0.3">KO-Mx</text>
<text x="435.60" y="457.50" font-size="8.6" font-weight="normal" font-style="normal" text-anchor="start" fill="#111" textLength="30.9" lengthAdjust="spacingAndGlyphs" stroke="#111" stroke-width="0.3">Control</text>
<text x="471.60" y="457.50" font-size="8.6" font-weight="normal" font-style="normal" text-anchor="start" fill="#111" textLength="28.9" lengthAdjust="spacingAndGlyphs" stroke="#111" stroke-width="0.3">KO-Mx</text>
<rect x="372.10" y="459.80" width="45.60" height="1.80" fill="#111" stroke="none" stroke-width="1" />
<rect x="443.60" y="459.80" width="46.80" height="1.80" fill="#111" stroke="none" stroke-width="1" />
<text x="377.90" y="470.50" font-size="8.6" font-weight="normal" font-style="normal" text-anchor="start" fill="#111" textLength="33.8" lengthAdjust="spacingAndGlyphs" stroke="#111" stroke-width="0.3">Region I</text>
<text x="447.40" y="470.50" font-size="8.6" font-weight="normal" font-style="normal" text-anchor="start" fill="#111" textLength="36.7" lengthAdjust="spacingAndGlyphs" stroke="#111" stroke-width="0.3">Region II</text>
<text transform="translate(335.80,393.20) rotate(-90)" font-size="8.8" font-weight="normal" font-style="normal" text-anchor="middle" fill="#111" textLength="66.6" lengthAdjust="spacingAndGlyphs" stroke="#111" stroke-width="0.3">Relative expression</text>
<line x1="360.40" y1="480.00" x2="360.40" y2="587.80" stroke="#111" stroke-width="1" />
<line x1="359.90" y1="587.30" x2="504.60" y2="587.30" stroke="#111" stroke-width="1" />
<line x1="360.40" y1="480.00" x2="362.40" y2="480.00" stroke="#111" stroke-width="0.8" />
<line x1="360.40" y1="506.80" x2="362.40" y2="506.80" stroke="#111" stroke-width="0.8" />
<line x1="360.40" y1="533.60" x2="362.40" y2="533.60" stroke="#111" stroke-width="0.8" />
<line x1="360.40" y1="560.50" x2="362.40" y2="560.50" stroke="#111" stroke-width="0.8" />
<text x="354.60" y="482.38" font-size="6.6" font-weight="normal" font-style="normal" text-anchor="end" fill="#111" stroke="#111" stroke-width="0.25">100</text>
<text x="354.60" y="508.98" font-size="6.6" font-weight="normal" font-style="normal" text-anchor="end" fill="#111" stroke="#111" stroke-width="0.25">75</text>
<text x="354.60" y="535.98" font-size="6.6" font-weight="normal" font-style="normal" text-anchor="end" fill="#111" stroke="#111" stroke-width="0.25">50</text>
<text x="354.60" y="562.78" font-size="6.6" font-weight="normal" font-style="normal" text-anchor="end" fill="#111" stroke="#111" stroke-width="0.25">25</text>
<text x="354.60" y="589.38" font-size="6.6" font-weight="normal" font-style="normal" text-anchor="end" fill="#111" stroke="#111" stroke-width="0.25">0</text>
<text x="373.60" y="491.30" font-size="10.6" font-weight="bold" font-style="italic" text-anchor="start" fill="#111" textLength="30.7" lengthAdjust="spacingAndGlyphs"  stroke="#111" stroke-width="0.15">Gata2</text>
<line x1="386.15" y1="584.50" x2="386.15" y2="585.20" stroke="#555" stroke-width="0.9" />
<line x1="384.85" y1="584.50" x2="387.45" y2="584.50" stroke="#333" stroke-width="0.9" />
<rect x="376.95" y="585.65" width="18.40" height="1.65" fill="#fff" stroke="#111" stroke-width="0.9" />
<line x1="406.90" y1="510.40" x2="406.90" y2="518.80" stroke="#555" stroke-width="0.9" />
<line x1="405.60" y1="510.40" x2="408.20" y2="510.40" stroke="#333" stroke-width="0.9" />
<rect x="395.80" y="518.80" width="22.20" height="68.50" fill="#000" stroke="none" stroke-width="1" />
<rect x="449.25" y="587.45" width="19.50" height="-0.15" fill="#fff" stroke="#111" stroke-width="0.9" />
<line x1="480.20" y1="502.00" x2="480.20" y2="512.30" stroke="#555" stroke-width="0.9" />
<line x1="478.90" y1="502.00" x2="481.50" y2="502.00" stroke="#333" stroke-width="0.9" />
<rect x="469.20" y="512.30" width="22.00" height="75.00" fill="#000" stroke="none" stroke-width="1" />
<text x="368.10" y="597.20" font-size="8.6" font-weight="normal" font-style="normal" text-anchor="start" fill="#111" textLength="30.6" lengthAdjust="spacingAndGlyphs" stroke="#111" stroke-width="0.3">Control</text>
<text x="404.10" y="597.20" font-size="8.6" font-weight="normal" font-style="normal" text-anchor="start" fill="#111" textLength="28.9" lengthAdjust="spacingAndGlyphs" stroke="#111" stroke-width="0.3">KO-Mx</text>
<text x="439.30" y="597.20" font-size="8.6" font-weight="normal" font-style="normal" text-anchor="start" fill="#111" textLength="30.9" lengthAdjust="spacingAndGlyphs" stroke="#111" stroke-width="0.3">Control</text>
<text x="475.40" y="597.20" font-size="8.6" font-weight="normal" font-style="normal" text-anchor="start" fill="#111" textLength="28.9" lengthAdjust="spacingAndGlyphs" stroke="#111" stroke-width="0.3">KO-Mx</text>
<rect x="375.90" y="600.00" width="46.10" height="1.80" fill="#111" stroke="none" stroke-width="1" />
<rect x="448.00" y="600.00" width="47.60" height="1.80" fill="#111" stroke="none" stroke-width="1" />
<text x="382.50" y="611.00" font-size="8.6" font-weight="normal" font-style="normal" text-anchor="start" fill="#111" textLength="33.8" lengthAdjust="spacingAndGlyphs" stroke="#111" stroke-width="0.3">Region I</text>
<text x="451.70" y="611.00" font-size="8.6" font-weight="normal" font-style="normal" text-anchor="start" fill="#111" textLength="36.7" lengthAdjust="spacingAndGlyphs" stroke="#111" stroke-width="0.3">Region II</text>
<text transform="translate(335.50,526.50) rotate(-90)" font-size="8.8" font-weight="normal" font-style="normal" text-anchor="middle" fill="#111" textLength="71.7" lengthAdjust="spacingAndGlyphs" stroke="#111" stroke-width="0.3">Relative expression</text>
<line x1="358.80" y1="626.50" x2="358.80" y2="742.50" stroke="#111" stroke-width="1" />
<line x1="358.30" y1="742.00" x2="502.70" y2="742.00" stroke="#111" stroke-width="1" />
<line x1="358.80" y1="626.50" x2="360.80" y2="626.50" stroke="#111" stroke-width="0.8" />
<line x1="358.80" y1="655.40" x2="360.80" y2="655.40" stroke="#111" stroke-width="0.8" />
<line x1="358.80" y1="684.20" x2="360.80" y2="684.20" stroke="#111" stroke-width="0.8" />
<line x1="358.80" y1="713.10" x2="360.80" y2="713.10" stroke="#111" stroke-width="0.8" />
<text x="353.00" y="628.88" font-size="6.6" font-weight="normal" font-style="normal" text-anchor="end" fill="#111" stroke="#111" stroke-width="0.25">160</text>
<text x="353.00" y="686.58" font-size="6.6" font-weight="normal" font-style="normal" text-anchor="end" fill="#111" stroke="#111" stroke-width="0.25">80</text>
<text x="353.00" y="744.38" font-size="6.6" font-weight="normal" font-style="normal" text-anchor="end" fill="#111" stroke="#111" stroke-width="0.25">0</text>
<text x="366.40" y="637.60" font-size="9.8" font-weight="bold" font-style="italic" text-anchor="start" fill="#111" textLength="77.3" lengthAdjust="spacingAndGlyphs"  stroke="#111" stroke-width="0.15">&#946;-major globin</text>
<rect x="376.25" y="741.25" width="20.30" height="0.75" fill="#fff" stroke="#111" stroke-width="0.9" />
<line x1="407.50" y1="739.40" x2="407.50" y2="740.00" stroke="#555" stroke-width="0.9" />
<line x1="406.20" y1="739.40" x2="408.80" y2="739.40" stroke="#333" stroke-width="0.9" />
<rect x="397.00" y="740.00" width="21.00" height="2.00" fill="#000" stroke="none" stroke-width="1" />
<line x1="461.40" y1="630.40" x2="461.40" y2="642.70" stroke="#555" stroke-width="0.9" />
<line x1="460.10" y1="630.40" x2="462.70" y2="630.40" stroke="#333" stroke-width="0.9" />
<rect x="451.25" y="643.15" width="20.30" height="98.85" fill="#fff" stroke="#111" stroke-width="0.9" />
<line x1="482.50" y1="723.50" x2="482.50" y2="726.50" stroke="#555" stroke-width="0.9" />
<line x1="481.20" y1="723.50" x2="483.80" y2="723.50" stroke="#333" stroke-width="0.9" />
<rect x="472.00" y="726.50" width="21.00" height="15.50" fill="#000" stroke="none" stroke-width="1" />
<text x="370.10" y="754.50" font-size="8.6" font-weight="normal" font-style="normal" text-anchor="start" fill="#111" textLength="30.6" lengthAdjust="spacingAndGlyphs" stroke="#111" stroke-width="0.3">Control</text>
<text x="406.10" y="754.50" font-size="8.6" font-weight="normal" font-style="normal" text-anchor="start" fill="#111" textLength="28.9" lengthAdjust="spacingAndGlyphs" stroke="#111" stroke-width="0.3">KO-Mx</text>
<text x="442.20" y="754.50" font-size="8.6" font-weight="normal" font-style="normal" text-anchor="start" fill="#111" textLength="30.9" lengthAdjust="spacingAndGlyphs" stroke="#111" stroke-width="0.3">Control</text>
<text x="478.30" y="754.50" font-size="8.6" font-weight="normal" font-style="normal" text-anchor="start" fill="#111" textLength="28.9" lengthAdjust="spacingAndGlyphs" stroke="#111" stroke-width="0.3">KO-Mx</text>
<rect x="378.70" y="757.40" width="45.30" height="1.80" fill="#111" stroke="none" stroke-width="1" />
<rect x="450.00" y="757.40" width="47.00" height="1.80" fill="#111" stroke="none" stroke-width="1" />
<text x="384.50" y="768.40" font-size="8.6" font-weight="normal" font-style="normal" text-anchor="start" fill="#111" textLength="33.8" lengthAdjust="spacingAndGlyphs" stroke="#111" stroke-width="0.3">Region I</text>
<text x="453.70" y="768.40" font-size="8.6" font-weight="normal" font-style="normal" text-anchor="start" fill="#111" textLength="36.7" lengthAdjust="spacingAndGlyphs" stroke="#111" stroke-width="0.3">Region II</text>
<text transform="translate(335.50,685.30) rotate(-90)" font-size="8.8" font-weight="normal" font-style="normal" text-anchor="middle" fill="#111" textLength="62.4" lengthAdjust="spacingAndGlyphs" stroke="#111" stroke-width="0.3">Relative expression</text>
<text x="-0.50" y="518.60" font-size="16.5" font-weight="bold" font-style="normal" text-anchor="start" fill="#111"  stroke="#111" stroke-width="0.15">D</text>
<line x1="50.20" y1="520.00" x2="50.20" y2="754.60" stroke="#111" stroke-width="1.1" />
<polygon points="50.20,516.00 48.20,522.00 52.20,522.00" fill="#111"/>
<line x1="50.20" y1="754.20" x2="179.00" y2="754.20" stroke="#111" stroke-width="1.1" />
<polygon points="184.60,754.20 178.10,752.00 178.10,756.40" fill="#111"/>
<text transform="translate(41.80,643.20) rotate(-90)" font-size="14.6" font-weight="bold" font-style="normal" text-anchor="middle" fill="#111" textLength="33.3" lengthAdjust="spacingAndGlyphs" stroke="#111" stroke-width="0.2">CD71</text>
<text x="96.60" y="771.30" font-size="14" font-weight="bold" font-style="normal" text-anchor="start" fill="#111" textLength="45.5" lengthAdjust="spacingAndGlyphs"  stroke="#111" stroke-width="0.15">Ter119</text>
<text transform="translate(16.30,581.20) rotate(-90)" font-size="11.6" font-weight="bold" font-style="italic" text-anchor="middle" fill="#111" textLength="85.5" lengthAdjust="spacingAndGlyphs" stroke="#111" stroke-width="0.2">Gata1 BAC GFP</text>
<text transform="translate(13.70,700.30) rotate(-90)" font-size="12.6" font-weight="bold" font-style="italic" text-anchor="middle" fill="#111" textLength="38.8" lengthAdjust="spacingAndGlyphs" stroke="#111" stroke-width="0.2">KO-Mx</text>
<path d="M160 542.5h1M117 545.5h1M132 547.5h1M116 548.5h1M124 548.5h1M138 548.5h1M150 548.5h1M122 549.5h2M144 549.5h1M148 549.5h1M117 550.5h1M136 550.5h1M156 550.5h1M110 551.5h1M117 551.5h1M119 551.5h1M130 551.5h1M135 551.5h1M139 551.5h1M141 551.5h1M143 551.5h1M147 551.5h1M154 551.5h1M157 551.5h1M160 551.5h2M115 552.5h1M135 552.5h1M137 552.5h1M140 552.5h3M151 552.5h1M153 552.5h2M162 552.5h2M120 553.5h2M134 553.5h2M140 553.5h4M145 553.5h3M150 553.5h3M156 553.5h1M160 553.5h1M162 553.5h1M111 554.5h1M114 554.5h1M118 554.5h2M124 554.5h1M126 554.5h1M132 554.5h1M134 554.5h1M136 554.5h6M147 554.5h2M150 554.5h1M153 554.5h2M157 554.5h1M159 554.5h1M163 554.5h1M113 555.5h3M122 555.5h1M125 555.5h3M133 555.5h2M136 555.5h4M142 555.5h4M147 555.5h3M152 555.5h1M154 555.5h2M158 555.5h1M162 555.5h1M112 556.5h1M124 556.5h2M129 556.5h1M132 556.5h1M134 556.5h8M143 556.5h2M147 556.5h1M151 556.5h2M155 556.5h1M159 556.5h3M107 557.5h2M111 557.5h1M122 557.5h2M130 557.5h1M132 557.5h3M136 557.5h2M139 557.5h2M142 557.5h2M145 557.5h1M147 557.5h2M150 557.5h7M159 557.5h2M162 557.5h2M103 558.5h1M111 558.5h1M113 558.5h3M117 558.5h4M122 558.5h1M124 558.5h4M130 558.5h3M134 558.5h4M139 558.5h7M147 558.5h1M150 558.5h4M155 558.5h6M109 559.5h3M115 559.5h2M118 559.5h1M121 559.5h1M123 559.5h2M128 559.5h2M131 559.5h3M135 559.5h18M155 559.5h3M159 559.5h4M164 559.5h1M112 560.5h1M114 560.5h1M116 560.5h1M119 560.5h1M123 560.5h2M126 560.5h1M129 560.5h16M147 560.5h4M152 560.5h4M157 560.5h2M160 560.5h1M165 560.5h1M168 560.5h1M106 561.5h1M109 561.5h1M115 561.5h5M121 561.5h2M125 561.5h1M127 561.5h14M142 561.5h5M148 561.5h4M153 561.5h6M161 561.5h2M165 561.5h1M113 562.5h1M115 562.5h3M119 562.5h2M122 562.5h1M125 562.5h1M128 562.5h24M153 562.5h4M162 562.5h1M113 563.5h1M117 563.5h2M120 563.5h1M122 563.5h4M127 563.5h29M157 563.5h1M159 563.5h1M162 563.5h1M109 564.5h1M113 564.5h1M116 564.5h1M118 564.5h1M120 564.5h4M126 564.5h5M132 564.5h8M141 564.5h13M155 564.5h5M163 564.5h1M171 564.5h1M110 565.5h1M117 565.5h1M120 565.5h1M122 565.5h2M125 565.5h5M131 565.5h25M158 565.5h2M161 565.5h2M112 566.5h1M114 566.5h1M116 566.5h3M120 566.5h2M123 566.5h1M126 566.5h2M129 566.5h15M145 566.5h13M159 566.5h5M109 567.5h1M116 567.5h2M121 567.5h4M126 567.5h1M128 567.5h29M158 567.5h2M161 567.5h3M169 567.5h1M112 568.5h1M114 568.5h1M116 568.5h1M118 568.5h1M121 568.5h2M124 568.5h32M157 568.5h1M160 568.5h2M163 568.5h2M83 569.5h1M109 569.5h1M118 569.5h2M121 569.5h1M123 569.5h1M125 569.5h29M155 569.5h4M160 569.5h1M162 569.5h1M166 569.5h1M107 570.5h1M109 570.5h1M117 570.5h1M120 570.5h4M125 570.5h35M163 570.5h1M76 571.5h1M117 571.5h1M119 571.5h1M121 571.5h40M163 571.5h1M170 571.5h1M105 572.5h2M109 572.5h1M113 572.5h1M115 572.5h1M121 572.5h1M123 572.5h25M149 572.5h10M161 572.5h2M164 572.5h1M88 573.5h1M102 573.5h1M109 573.5h1M123 573.5h3M127 573.5h16M144 573.5h17M162 573.5h2M169 573.5h1M81 574.5h1M101 574.5h1M113 574.5h1M115 574.5h1M123 574.5h36M160 574.5h2M104 575.5h1M115 575.5h1M117 575.5h29M147 575.5h12M162 575.5h2M75 576.5h1M82 576.5h1M98 576.5h1M108 576.5h2M114 576.5h1M118 576.5h6M125 576.5h34M163 576.5h1M165 576.5h1M87 577.5h1M91 577.5h1M107 577.5h1M113 577.5h1M115 577.5h3M119 577.5h1M121 577.5h1M123 577.5h33M157 577.5h2M160 577.5h2M78 578.5h1M81 578.5h1M84 578.5h1M90 578.5h1M92 578.5h1M99 578.5h2M108 578.5h1M112 578.5h2M118 578.5h1M121 578.5h1M124 578.5h30M155 578.5h4M160 578.5h2M79 579.5h1M84 579.5h1M91 579.5h1M94 579.5h1M108 579.5h1M117 579.5h2M121 579.5h4M126 579.5h20M147 579.5h10M158 579.5h3M162 579.5h1M164 579.5h1M166 579.5h1M77 580.5h1M79 580.5h1M88 580.5h1M90 580.5h1M95 580.5h1M97 580.5h1M99 580.5h3M103 580.5h1M110 580.5h1M114 580.5h1M120 580.5h5M126 580.5h2M129 580.5h30M160 580.5h1M165 580.5h1M75 581.5h2M81 581.5h2M84 581.5h1M86 581.5h1M89 581.5h1M92 581.5h1M97 581.5h3M103 581.5h1M110 581.5h1M116 581.5h1M120 581.5h4M125 581.5h5M131 581.5h27M160 581.5h1M162 581.5h1M77 582.5h1M83 582.5h1M90 582.5h1M92 582.5h2M96 582.5h1M98 582.5h2M110 582.5h1M115 582.5h1M117 582.5h2M120 582.5h35M156 582.5h5M75 583.5h1M80 583.5h4M87 583.5h3M93 583.5h1M98 583.5h1M103 583.5h1M108 583.5h3M112 583.5h1M115 583.5h2M119 583.5h39M159 583.5h2M76 584.5h2M81 584.5h3M85 584.5h3M89 584.5h1M92 584.5h1M94 584.5h1M96 584.5h4M103 584.5h1M106 584.5h1M109 584.5h1M111 584.5h1M114 584.5h1M118 584.5h1M120 584.5h4M125 584.5h21M147 584.5h12M77 585.5h4M82 585.5h2M86 585.5h1M91 585.5h1M93 585.5h2M99 585.5h1M102 585.5h1M104 585.5h1M106 585.5h1M114 585.5h1M119 585.5h1M121 585.5h1M123 585.5h3M127 585.5h33M77 586.5h7M86 586.5h4M92 586.5h1M94 586.5h1M96 586.5h1M99 586.5h2M104 586.5h2M115 586.5h1M118 586.5h1M122 586.5h38M75 587.5h1M79 587.5h6M86 587.5h1M88 587.5h8M97 587.5h1M100 587.5h1M104 587.5h1M109 587.5h1M114 587.5h1M122 587.5h37M75 588.5h1M78 588.5h2M81 588.5h1M84 588.5h1M86 588.5h3M90 588.5h1M94 588.5h3M99 588.5h1M101 588.5h1M103 588.5h1M107 588.5h1M110 588.5h1M112 588.5h1M121 588.5h2M124 588.5h36M75 589.5h1M77 589.5h7M85 589.5h4M90 589.5h3M94 589.5h2M97 589.5h1M103 589.5h4M108 589.5h2M111 589.5h1M113 589.5h2M120 589.5h2M123 589.5h1M125 589.5h16M142 589.5h14M157 589.5h4M75 590.5h3M79 590.5h13M95 590.5h1M100 590.5h1M102 590.5h1M104 590.5h1M108 590.5h1M122 590.5h1M124 590.5h22M147 590.5h12M160 590.5h1M77 591.5h1M79 591.5h15M96 591.5h1M98 591.5h1M102 591.5h1M108 591.5h3M112 591.5h1M115 591.5h1M117 591.5h1M120 591.5h40M75 592.5h12M88 592.5h10M99 592.5h1M106 592.5h4M113 592.5h2M121 592.5h39M75 593.5h2M78 593.5h11M90 593.5h5M96 593.5h3M100 593.5h2M103 593.5h1M105 593.5h2M110 593.5h1M121 593.5h38M160 593.5h2M75 594.5h4M80 594.5h6M87 594.5h3M91 594.5h4M97 594.5h1M99 594.5h1M101 594.5h1M103 594.5h3M111 594.5h5M121 594.5h1M123 594.5h33M157 594.5h2M76 595.5h15M93 595.5h6M100 595.5h2M104 595.5h1M109 595.5h1M111 595.5h2M119 595.5h1M121 595.5h38M75 596.5h18M94 596.5h1M96 596.5h3M100 596.5h1M105 596.5h2M108 596.5h3M112 596.5h2M115 596.5h1M120 596.5h1M122 596.5h32M156 596.5h2M159 596.5h1M75 597.5h2M78 597.5h11M90 597.5h11M102 597.5h10M113 597.5h1M116 597.5h2M120 597.5h1M122 597.5h25M148 597.5h8M157 597.5h1M75 598.5h15M91 598.5h9M102 598.5h1M104 598.5h1M115 598.5h1M117 598.5h1M119 598.5h1M123 598.5h32M157 598.5h1M75 599.5h22M98 599.5h1M102 599.5h1M105 599.5h1M113 599.5h1M118 599.5h7M126 599.5h3M130 599.5h25M156 599.5h1M75 600.5h22M98 600.5h2M104 600.5h1M106 600.5h1M111 600.5h1M113 600.5h4M119 600.5h5M125 600.5h33M75 601.5h8M84 601.5h5M90 601.5h3M94 601.5h5M101 601.5h2M104 601.5h1M113 601.5h2M117 601.5h3M121 601.5h37M75 602.5h7M84 602.5h2M87 602.5h11M100 602.5h3M104 602.5h1M110 602.5h2M113 602.5h3M119 602.5h9M129 602.5h24M154 602.5h3M75 603.5h2M78 603.5h6M85 603.5h8M94 603.5h10M110 603.5h3M114 603.5h1M116 603.5h2M119 603.5h1M121 603.5h2M124 603.5h29M154 603.5h1M156 603.5h3M75 604.5h2M78 604.5h23M102 604.5h4M111 604.5h1M115 604.5h2M118 604.5h1M120 604.5h1M122 604.5h36M159 604.5h2M75 605.5h4M80 605.5h20M101 605.5h1M103 605.5h1M106 605.5h1M109 605.5h4M114 605.5h4M119 605.5h33M155 605.5h1M75 606.5h22M100 606.5h1M103 606.5h3M107 606.5h1M112 606.5h4M117 606.5h37M155 606.5h1M157 606.5h1M75 607.5h28M105 607.5h3M111 607.5h1M113 607.5h4M118 607.5h1M120 607.5h37M75 608.5h2M78 608.5h1M80 608.5h16M97 608.5h2M101 608.5h3M105 608.5h1M107 608.5h1M111 608.5h3M115 608.5h2M118 608.5h1M120 608.5h3M124 608.5h27M152 608.5h2M75 609.5h2M78 609.5h7M86 609.5h9M96 609.5h7M110 609.5h1M113 609.5h1M115 609.5h7M123 609.5h1M125 609.5h25M152 609.5h1M154 609.5h1M75 610.5h5M81 610.5h4M86 610.5h13M100 610.5h1M102 610.5h2M109 610.5h1M111 610.5h1M113 610.5h1M116 610.5h33M150 610.5h5M156 610.5h1M158 610.5h1M75 611.5h21M97 611.5h1M99 611.5h3M104 611.5h1M106 611.5h1M108 611.5h1M112 611.5h1M115 611.5h2M119 611.5h7M127 611.5h19M147 611.5h4M152 611.5h1M75 612.5h12M88 612.5h7M97 612.5h3M101 612.5h1M103 612.5h1M112 612.5h1M114 612.5h2M117 612.5h2M120 612.5h33M154 612.5h3M75 613.5h6M82 613.5h1M84 613.5h5M91 613.5h4M96 613.5h1M98 613.5h1M107 613.5h2M111 613.5h2M114 613.5h8M123 613.5h1M127 613.5h19M147 613.5h4M152 613.5h1M154 613.5h1M156 613.5h1M75 614.5h14M90 614.5h2M93 614.5h3M99 614.5h1M101 614.5h1M112 614.5h3M118 614.5h11M130 614.5h2M133 614.5h16M152 614.5h1M154 614.5h2M76 615.5h18M95 615.5h5M102 615.5h1M116 615.5h2M120 615.5h1M122 615.5h3M126 615.5h8M135 615.5h13M150 615.5h1M152 615.5h2M75 616.5h4M81 616.5h1M83 616.5h2M86 616.5h9M97 616.5h3M104 616.5h1M108 616.5h1M113 616.5h1M116 616.5h2M119 616.5h3M123 616.5h5M129 616.5h17M148 616.5h3M153 616.5h1M155 616.5h1M78 617.5h10M89 617.5h2M92 617.5h1M94 617.5h1M96 617.5h1M99 617.5h1M106 617.5h1M110 617.5h1M115 617.5h2M118 617.5h1M120 617.5h3M124 617.5h5M130 617.5h10M141 617.5h6M148 617.5h1M152 617.5h1M77 618.5h4M82 618.5h2M85 618.5h2M88 618.5h2M93 618.5h4M102 618.5h3M111 618.5h1M113 618.5h1M119 618.5h1M121 618.5h3M126 618.5h2M129 618.5h7M137 618.5h8M78 619.5h1M81 619.5h1M83 619.5h3M88 619.5h3M92 619.5h3M98 619.5h1M100 619.5h1M110 619.5h3M116 619.5h2M120 619.5h1M124 619.5h1M126 619.5h1M128 619.5h4M133 619.5h1M138 619.5h1M140 619.5h1M142 619.5h1M145 619.5h1M150 619.5h1M155 619.5h1" stroke="#000" stroke-width="1" fill="none" shape-rendering="crispEdges"/>
<rect x="74.30" y="525.50" width="101.30" height="94.10" fill="none" stroke="#222" stroke-width="1.1" />
<text x="71.30" y="622.20" font-size="7.8" font-weight="bold" text-anchor="end" fill="#111">10<tspan font-size="5.4" dy="-3.2">0</tspan></text>
<text x="75.80" y="629.90" font-size="7.8" font-weight="bold" text-anchor="middle" fill="#111">10<tspan font-size="5.4" dy="-3.2">0</tspan></text>
<text x="71.30" y="598.68" font-size="7.8" font-weight="bold" text-anchor="end" fill="#111">10<tspan font-size="5.4" dy="-3.2">1</tspan></text>
<text x="101.12" y="629.90" font-size="7.8" font-weight="bold" text-anchor="middle" fill="#111">10<tspan font-size="5.4" dy="-3.2">1</tspan></text>
<line x1="99.62" y1="619.60" x2="99.62" y2="618.10" stroke="#222" stroke-width="0.8" />
<line x1="74.30" y1="596.08" x2="75.80" y2="596.08" stroke="#222" stroke-width="0.8" />
<text x="71.30" y="575.15" font-size="7.8" font-weight="bold" text-anchor="end" fill="#111">10<tspan font-size="5.4" dy="-3.2">2</tspan></text>
<text x="126.45" y="629.90" font-size="7.8" font-weight="bold" text-anchor="middle" fill="#111">10<tspan font-size="5.4" dy="-3.2">2</tspan></text>
<line x1="124.95" y1="619.60" x2="124.95" y2="618.10" stroke="#222" stroke-width="0.8" />
<line x1="74.30" y1="572.55" x2="75.80" y2="572.55" stroke="#222" stroke-width="0.8" />
<text x="71.30" y="551.62" font-size="7.8" font-weight="bold" text-anchor="end" fill="#111">10<tspan font-size="5.4" dy="-3.2">3</tspan></text>
<text x="151.77" y="629.90" font-size="7.8" font-weight="bold" text-anchor="middle" fill="#111">10<tspan font-size="5.4" dy="-3.2">3</tspan></text>
<line x1="150.27" y1="619.60" x2="150.27" y2="618.10" stroke="#222" stroke-width="0.8" />
<line x1="74.30" y1="549.02" x2="75.80" y2="549.02" stroke="#222" stroke-width="0.8" />
<text x="71.30" y="528.10" font-size="7.8" font-weight="bold" text-anchor="end" fill="#111">10<tspan font-size="5.4" dy="-3.2">4</tspan></text>
<text x="177.10" y="629.90" font-size="7.8" font-weight="bold" text-anchor="middle" fill="#111">10<tspan font-size="5.4" dy="-3.2">4</tspan></text>
<rect x="97.30" y="542.00" width="30.90" height="39.20" fill="none" stroke="#dd2030" stroke-width="1.15" stroke-opacity="0.72"/>
<rect x="128.20" y="542.00" width="40.40" height="39.20" fill="none" stroke="#dd2030" stroke-width="1.15" stroke-opacity="0.72"/>
<rect x="116.50" y="581.20" width="52.10" height="18.20" fill="none" stroke="#dd2030" stroke-width="1.15" stroke-opacity="0.72"/>
<rect x="116.50" y="599.40" width="52.10" height="19.20" fill="none" stroke="#dd2030" stroke-width="1.15" stroke-opacity="0.72"/>
<line x1="116.50" y1="582.10" x2="168.60" y2="582.10" stroke="#c01828" stroke-width="1.0" stroke-opacity="0.6"/>
<line x1="116.50" y1="600.30" x2="168.60" y2="600.30" stroke="#c01828" stroke-width="1.0" stroke-opacity="0.6"/>
<line x1="129.10" y1="542.00" x2="129.10" y2="581.20" stroke="#c01828" stroke-width="1.0" stroke-opacity="0.6"/>
<text x="101.80" y="538.20" font-size="11.5" font-weight="bold" font-style="normal" text-anchor="middle" fill="#c41a2c" stroke="#c41a2c" stroke-width="0.5">I</text>
<text x="134.00" y="538.20" font-size="11.5" font-weight="bold" font-style="normal" text-anchor="middle" fill="#c41a2c" stroke="#c41a2c" stroke-width="0.5">II</text>
<text x="163.40" y="597.40" font-size="11.5" font-weight="bold" font-style="normal" text-anchor="middle" fill="#c41a2c" stroke="#c41a2c" stroke-width="0.5">III</text>
<text x="161.30" y="615.30" font-size="11.5" font-weight="bold" font-style="normal" text-anchor="middle" fill="#c41a2c" stroke="#c41a2c" stroke-width="0.5">IV</text>
<path d="M131 649.5h1M109 651.5h1M135 652.5h1M119 653.5h1M122 653.5h1M127 653.5h1M152 653.5h1M107 655.5h1M116 655.5h1M120 655.5h2M86 656.5h1M96 656.5h1M102 656.5h1M110 656.5h1M112 656.5h1M116 656.5h1M118 656.5h2M122 656.5h1M88 657.5h1M104 657.5h4M111 657.5h5M117 657.5h4M123 657.5h1M130 657.5h1M136 657.5h2M149 657.5h1M87 658.5h1M96 658.5h1M102 658.5h1M107 658.5h3M111 658.5h1M114 658.5h1M116 658.5h1M118 658.5h1M123 658.5h2M127 658.5h1M130 658.5h2M80 659.5h1M82 659.5h2M88 659.5h1M97 659.5h1M99 659.5h2M102 659.5h1M105 659.5h1M108 659.5h1M112 659.5h8M121 659.5h2M126 659.5h1M131 659.5h1M133 659.5h2M147 659.5h1M82 660.5h2M90 660.5h1M94 660.5h1M98 660.5h1M101 660.5h1M103 660.5h2M106 660.5h1M108 660.5h8M117 660.5h7M126 660.5h1M128 660.5h1M132 660.5h1M137 660.5h1M83 661.5h1M86 661.5h3M90 661.5h2M94 661.5h1M96 661.5h1M98 661.5h1M100 661.5h3M107 661.5h1M109 661.5h3M113 661.5h5M119 661.5h4M124 661.5h5M132 661.5h1M139 661.5h1M148 661.5h1M76 662.5h1M78 662.5h1M80 662.5h1M83 662.5h3M88 662.5h1M90 662.5h2M94 662.5h2M100 662.5h1M103 662.5h4M108 662.5h10M120 662.5h6M129 662.5h3M141 662.5h1M143 662.5h1M149 662.5h1M76 663.5h3M80 663.5h1M84 663.5h1M86 663.5h2M89 663.5h4M100 663.5h3M104 663.5h22M127 663.5h1M129 663.5h1M131 663.5h3M135 663.5h1M137 663.5h2M140 663.5h1M82 664.5h3M89 664.5h1M91 664.5h2M95 664.5h2M98 664.5h2M101 664.5h4M106 664.5h26M134 664.5h1M137 664.5h2M150 664.5h1M75 665.5h1M78 665.5h2M81 665.5h4M86 665.5h2M89 665.5h2M93 665.5h8M102 665.5h5M108 665.5h26M135 665.5h1M137 665.5h3M141 665.5h2M147 665.5h1M76 666.5h1M78 666.5h3M82 666.5h2M85 666.5h2M89 666.5h1M91 666.5h4M96 666.5h1M99 666.5h30M130 666.5h2M133 666.5h2M136 666.5h2M139 666.5h1M146 666.5h1M77 667.5h1M79 667.5h2M82 667.5h3M86 667.5h2M90 667.5h2M94 667.5h6M101 667.5h2M104 667.5h25M130 667.5h1M132 667.5h5M139 667.5h1M143 667.5h1M76 668.5h1M78 668.5h4M83 668.5h24M108 668.5h26M135 668.5h1M144 668.5h1M77 669.5h4M82 669.5h4M87 669.5h3M91 669.5h1M94 669.5h3M98 669.5h7M106 669.5h31M138 669.5h4M143 669.5h2M75 670.5h1M77 670.5h4M82 670.5h2M86 670.5h5M93 670.5h3M97 670.5h1M100 670.5h4M105 670.5h27M133 670.5h2M136 670.5h1M138 670.5h3M143 670.5h1M152 670.5h1M76 671.5h1M78 671.5h7M86 671.5h1M88 671.5h2M91 671.5h4M97 671.5h37M135 671.5h2M138 671.5h3M142 671.5h1M146 671.5h1M76 672.5h1M78 672.5h12M93 672.5h3M97 672.5h10M108 672.5h15M125 672.5h4M130 672.5h5M136 672.5h1M139 672.5h2M142 672.5h1M145 672.5h2M148 672.5h1M151 672.5h1M161 672.5h1M163 672.5h1M75 673.5h3M79 673.5h9M89 673.5h1M91 673.5h5M97 673.5h41M139 673.5h1M141 673.5h1M144 673.5h1M76 674.5h2M79 674.5h4M86 674.5h9M96 674.5h1M98 674.5h4M103 674.5h34M139 674.5h1M144 674.5h1M146 674.5h1M150 674.5h1M153 674.5h2M75 675.5h3M79 675.5h5M86 675.5h10M97 675.5h14M112 675.5h24M137 675.5h1M139 675.5h1M141 675.5h1M143 675.5h1M147 675.5h1M153 675.5h1M76 676.5h3M80 676.5h1M82 676.5h8M91 676.5h6M98 676.5h18M117 676.5h10M128 676.5h1M130 676.5h7M140 676.5h1M144 676.5h2M148 676.5h3M75 677.5h3M79 677.5h6M86 677.5h3M90 677.5h1M92 677.5h2M95 677.5h5M101 677.5h35M137 677.5h2M140 677.5h2M144 677.5h1M146 677.5h1M150 677.5h1M75 678.5h7M84 678.5h8M93 678.5h43M137 678.5h5M144 678.5h2M147 678.5h2M151 678.5h1M162 678.5h1M75 679.5h2M78 679.5h1M80 679.5h6M87 679.5h5M93 679.5h4M98 679.5h2M101 679.5h31M133 679.5h11M145 679.5h1M77 680.5h10M89 680.5h2M92 680.5h44M137 680.5h1M139 680.5h1M143 680.5h1M75 681.5h5M81 681.5h14M96 681.5h1M98 681.5h40M144 681.5h1M147 681.5h1M150 681.5h4M75 682.5h1M77 682.5h4M84 682.5h1M86 682.5h3M91 682.5h5M97 682.5h6M104 682.5h15M121 682.5h17M139 682.5h2M142 682.5h1M145 682.5h1M148 682.5h1M160 682.5h1M76 683.5h5M83 683.5h1M86 683.5h1M88 683.5h3M92 683.5h5M98 683.5h1M100 683.5h31M132 683.5h6M140 683.5h1M143 683.5h1M146 683.5h1M152 683.5h1M162 683.5h1M75 684.5h1M78 684.5h5M85 684.5h1M87 684.5h5M93 684.5h2M96 684.5h39M136 684.5h3M141 684.5h1M152 684.5h1M156 684.5h1M76 685.5h4M81 685.5h12M94 685.5h5M100 685.5h1M102 685.5h5M108 685.5h2M111 685.5h31M143 685.5h1M75 686.5h10M86 686.5h41M128 686.5h6M135 686.5h3M139 686.5h1M142 686.5h1M144 686.5h1M147 686.5h2M155 686.5h1M76 687.5h2M79 687.5h3M83 687.5h5M89 687.5h2M92 687.5h6M99 687.5h2M102 687.5h15M118 687.5h6M125 687.5h7M133 687.5h2M136 687.5h1M138 687.5h1M149 687.5h1M166 687.5h1M75 688.5h4M80 688.5h2M84 688.5h9M96 688.5h3M101 688.5h30M134 688.5h2M137 688.5h3M142 688.5h1M150 688.5h1M75 689.5h1M77 689.5h7M85 689.5h3M89 689.5h7M97 689.5h1M99 689.5h1M101 689.5h2M104 689.5h2M109 689.5h22M132 689.5h5M141 689.5h2M145 689.5h1M150 689.5h1M152 689.5h1M155 689.5h1M75 690.5h3M79 690.5h2M82 690.5h1M85 690.5h6M93 690.5h3M98 690.5h5M104 690.5h8M113 690.5h15M129 690.5h4M134 690.5h2M137 690.5h1M139 690.5h1M143 690.5h2M149 690.5h3M75 691.5h2M78 691.5h2M81 691.5h3M85 691.5h1M87 691.5h5M93 691.5h3M98 691.5h2M102 691.5h2M106 691.5h19M126 691.5h1M128 691.5h5M134 691.5h2M139 691.5h1M157 691.5h1M165 691.5h1M75 692.5h1M77 692.5h1M79 692.5h4M87 692.5h5M93 692.5h7M102 692.5h2M106 692.5h3M110 692.5h1M114 692.5h1M116 692.5h7M125 692.5h3M129 692.5h2M134 692.5h4M140 692.5h2M143 692.5h1M145 692.5h2M150 692.5h1M165 692.5h1M173 692.5h1M75 693.5h1M77 693.5h1M79 693.5h5M85 693.5h9M95 693.5h1M97 693.5h1M102 693.5h1M104 693.5h4M109 693.5h5M115 693.5h8M124 693.5h1M126 693.5h8M140 693.5h1M153 693.5h1M75 694.5h5M81 694.5h5M90 694.5h4M95 694.5h6M102 694.5h1M104 694.5h3M108 694.5h1M112 694.5h1M114 694.5h1M116 694.5h6M123 694.5h1M125 694.5h1M128 694.5h2M137 694.5h1M140 694.5h1M142 694.5h1M145 694.5h1M76 695.5h7M84 695.5h4M89 695.5h7M97 695.5h3M101 695.5h1M105 695.5h1M107 695.5h4M113 695.5h1M115 695.5h10M131 695.5h1M138 695.5h1M141 695.5h3M152 695.5h1M154 695.5h1M160 695.5h1M162 695.5h1M76 696.5h4M81 696.5h5M87 696.5h2M90 696.5h6M98 696.5h1M102 696.5h1M104 696.5h1M108 696.5h1M110 696.5h2M114 696.5h1M116 696.5h5M122 696.5h1M124 696.5h1M132 696.5h1M149 696.5h1M151 696.5h1M75 697.5h3M79 697.5h1M81 697.5h4M86 697.5h2M89 697.5h2M93 697.5h3M99 697.5h1M101 697.5h1M103 697.5h3M107 697.5h1M110 697.5h1M112 697.5h1M114 697.5h1M116 697.5h4M124 697.5h4M129 697.5h1M134 697.5h1M138 697.5h3M155 697.5h1M75 698.5h3M79 698.5h7M87 698.5h2M90 698.5h2M95 698.5h3M99 698.5h2M107 698.5h1M116 698.5h1M118 698.5h1M122 698.5h1M127 698.5h1M132 698.5h1M138 698.5h1M143 698.5h1M146 698.5h1M151 698.5h1M161 698.5h1M75 699.5h1M77 699.5h4M83 699.5h6M91 699.5h4M98 699.5h2M102 699.5h1M108 699.5h1M110 699.5h1M113 699.5h1M116 699.5h1M119 699.5h2M123 699.5h1M127 699.5h1M129 699.5h2M138 699.5h1M148 699.5h1M155 699.5h1M76 700.5h2M80 700.5h1M82 700.5h2M86 700.5h1M89 700.5h4M94 700.5h5M101 700.5h9M112 700.5h1M114 700.5h1M119 700.5h1M122 700.5h2M125 700.5h1M133 700.5h1M137 700.5h1M146 700.5h1M150 700.5h1M155 700.5h1M161 700.5h1M75 701.5h2M78 701.5h4M84 701.5h5M90 701.5h1M92 701.5h1M94 701.5h7M104 701.5h1M110 701.5h2M113 701.5h1M122 701.5h2M127 701.5h1M144 701.5h1M147 701.5h2M151 701.5h1M155 701.5h1M75 702.5h1M77 702.5h1M79 702.5h3M83 702.5h18M104 702.5h1M106 702.5h1M110 702.5h3M114 702.5h2M117 702.5h1M124 702.5h1M128 702.5h1M134 702.5h2M147 702.5h1M78 703.5h4M84 703.5h2M87 703.5h13M101 703.5h5M107 703.5h4M115 703.5h1M117 703.5h2M122 703.5h1M124 703.5h1M128 703.5h1M148 703.5h1M173 703.5h1M75 704.5h4M80 704.5h5M86 704.5h2M90 704.5h6M99 704.5h2M103 704.5h2M110 704.5h3M124 704.5h1M127 704.5h1M130 704.5h1M133 704.5h1M145 704.5h1M152 704.5h1M157 704.5h1M166 704.5h1M76 705.5h2M79 705.5h4M84 705.5h4M89 705.5h2M92 705.5h3M96 705.5h1M98 705.5h1M100 705.5h2M103 705.5h1M105 705.5h1M111 705.5h1M127 705.5h1M137 705.5h1M139 705.5h1M145 705.5h2M148 705.5h1M151 705.5h1M155 705.5h1M75 706.5h3M79 706.5h6M87 706.5h9M97 706.5h1M99 706.5h4M104 706.5h1M106 706.5h3M111 706.5h1M114 706.5h1M117 706.5h1M125 706.5h1M136 706.5h1M139 706.5h3M149 706.5h1M76 707.5h11M88 707.5h2M91 707.5h8M100 707.5h1M103 707.5h1M107 707.5h4M113 707.5h1M119 707.5h1M131 707.5h1M137 707.5h1M142 707.5h1M148 707.5h3M75 708.5h19M95 708.5h1M97 708.5h4M102 708.5h3M108 708.5h4M116 708.5h1M122 708.5h1M124 708.5h1M131 708.5h1M134 708.5h1M144 708.5h1M146 708.5h1M158 708.5h1M160 708.5h1M75 709.5h5M81 709.5h13M95 709.5h1M102 709.5h4M109 709.5h3M114 709.5h1M120 709.5h1M138 709.5h1M140 709.5h1M156 709.5h1M158 709.5h1M162 709.5h1M75 710.5h1M77 710.5h3M81 710.5h15M97 710.5h4M103 710.5h2M109 710.5h1M114 710.5h1M123 710.5h2M129 710.5h2M140 710.5h1M145 710.5h1M151 710.5h2M75 711.5h24M100 711.5h3M105 711.5h1M112 711.5h1M114 711.5h1M118 711.5h1M120 711.5h1M156 711.5h1M75 712.5h26M102 712.5h4M107 712.5h3M111 712.5h1M116 712.5h2M133 712.5h2M148 712.5h1M152 712.5h1M162 712.5h2M75 713.5h3M79 713.5h24M105 713.5h3M109 713.5h1M112 713.5h1M114 713.5h1M116 713.5h1M120 713.5h1M75 714.5h23M99 714.5h5M105 714.5h1M108 714.5h1M122 714.5h1M127 714.5h1M139 714.5h1M143 714.5h1M146 714.5h1M149 714.5h1M166 714.5h1M75 715.5h24M100 715.5h1M102 715.5h1M104 715.5h5M110 715.5h3M114 715.5h1M119 715.5h1M125 715.5h1M139 715.5h1M144 715.5h1M148 715.5h1M166 715.5h1M75 716.5h28M104 716.5h2M108 716.5h1M111 716.5h1M115 716.5h3M119 716.5h1M123 716.5h2M148 716.5h1M169 716.5h1M75 717.5h4M80 717.5h24M106 717.5h1M108 717.5h2M113 717.5h2M118 717.5h2M147 717.5h1M157 717.5h1M75 718.5h28M105 718.5h1M108 718.5h1M110 718.5h1M122 718.5h1M129 718.5h1M150 718.5h1M153 718.5h1M165 718.5h1M168 718.5h1M170 718.5h1M75 719.5h27M104 719.5h4M111 719.5h2M116 719.5h1M122 719.5h1M151 719.5h1M75 720.5h2M78 720.5h27M109 720.5h1M112 720.5h1M117 720.5h3M148 720.5h1M153 720.5h1M164 720.5h1M168 720.5h1M75 721.5h1M77 721.5h8M86 721.5h20M111 721.5h2M115 721.5h1M123 721.5h1M130 721.5h1M133 721.5h1M136 721.5h1M138 721.5h2M158 721.5h1M75 722.5h29M105 722.5h2M114 722.5h1M125 722.5h1M149 722.5h1M151 722.5h1M75 723.5h1M77 723.5h25M103 723.5h6M112 723.5h1M114 723.5h1M116 723.5h1M118 723.5h1M130 723.5h1M151 723.5h2M164 723.5h1M75 724.5h14M90 724.5h13M106 724.5h1M110 724.5h2M113 724.5h2M139 724.5h2M146 724.5h1M151 724.5h1M153 724.5h1M157 724.5h1M164 724.5h1M75 725.5h31M109 725.5h1M111 725.5h1M114 725.5h1M116 725.5h2M119 725.5h1M121 725.5h2M126 725.5h1M136 725.5h1M141 725.5h1M149 725.5h1M152 725.5h1M75 726.5h29M105 726.5h2M109 726.5h1M112 726.5h1M114 726.5h1M120 726.5h1M131 726.5h1M140 726.5h1M155 726.5h1M162 726.5h1M75 727.5h22M98 727.5h1M100 727.5h5M106 727.5h1M109 727.5h1M111 727.5h1M154 727.5h1M75 728.5h20M96 728.5h7M104 728.5h1M114 728.5h1M116 728.5h1M125 728.5h1M128 728.5h1M149 728.5h1M75 729.5h24M100 729.5h3M104 729.5h3M110 729.5h3M114 729.5h1M142 729.5h1M154 729.5h1M156 729.5h1M76 730.5h11M88 730.5h12M101 730.5h1M103 730.5h2M107 730.5h2M110 730.5h1M113 730.5h1M116 730.5h1M129 730.5h1M139 730.5h1M75 731.5h17M94 731.5h1M96 731.5h1M98 731.5h4M103 731.5h3M109 731.5h1M111 731.5h1M122 731.5h1M75 732.5h19M95 732.5h3M100 732.5h1M102 732.5h1M104 732.5h2M107 732.5h1M110 732.5h1M127 732.5h1" stroke="#000" stroke-width="1" fill="none" shape-rendering="crispEdges"/>
<rect x="74.30" y="641.30" width="101.70" height="91.90" fill="none" stroke="#222" stroke-width="1.1" />
<text x="71.30" y="735.80" font-size="7.8" font-weight="bold" text-anchor="end" fill="#111">10<tspan font-size="5.4" dy="-3.2">0</tspan></text>
<text x="75.80" y="743.50" font-size="7.8" font-weight="bold" text-anchor="middle" fill="#111">10<tspan font-size="5.4" dy="-3.2">0</tspan></text>
<text x="71.30" y="712.83" font-size="7.8" font-weight="bold" text-anchor="end" fill="#111">10<tspan font-size="5.4" dy="-3.2">1</tspan></text>
<text x="101.22" y="743.50" font-size="7.8" font-weight="bold" text-anchor="middle" fill="#111">10<tspan font-size="5.4" dy="-3.2">1</tspan></text>
<line x1="99.72" y1="733.20" x2="99.72" y2="731.70" stroke="#222" stroke-width="0.8" />
<line x1="74.30" y1="710.23" x2="75.80" y2="710.23" stroke="#222" stroke-width="0.8" />
<text x="71.30" y="689.85" font-size="7.8" font-weight="bold" text-anchor="end" fill="#111">10<tspan font-size="5.4" dy="-3.2">2</tspan></text>
<text x="126.65" y="743.50" font-size="7.8" font-weight="bold" text-anchor="middle" fill="#111">10<tspan font-size="5.4" dy="-3.2">2</tspan></text>
<line x1="125.15" y1="733.20" x2="125.15" y2="731.70" stroke="#222" stroke-width="0.8" />
<line x1="74.30" y1="687.25" x2="75.80" y2="687.25" stroke="#222" stroke-width="0.8" />
<text x="71.30" y="666.88" font-size="7.8" font-weight="bold" text-anchor="end" fill="#111">10<tspan font-size="5.4" dy="-3.2">3</tspan></text>
<text x="152.07" y="743.50" font-size="7.8" font-weight="bold" text-anchor="middle" fill="#111">10<tspan font-size="5.4" dy="-3.2">3</tspan></text>
<line x1="150.57" y1="733.20" x2="150.57" y2="731.70" stroke="#222" stroke-width="0.8" />
<line x1="74.30" y1="664.27" x2="75.80" y2="664.27" stroke="#222" stroke-width="0.8" />
<text x="71.30" y="643.90" font-size="7.8" font-weight="bold" text-anchor="end" fill="#111">10<tspan font-size="5.4" dy="-3.2">4</tspan></text>
<text x="177.50" y="743.50" font-size="7.8" font-weight="bold" text-anchor="middle" fill="#111">10<tspan font-size="5.4" dy="-3.2">4</tspan></text>
<rect x="97.40" y="657.40" width="31.10" height="39.60" fill="none" stroke="#dd2030" stroke-width="1.15" stroke-opacity="0.72"/>
<rect x="128.50" y="657.40" width="40.10" height="39.60" fill="none" stroke="#dd2030" stroke-width="1.15" stroke-opacity="0.72"/>
<rect x="116.40" y="697.80" width="52.20" height="16.40" fill="none" stroke="#dd2030" stroke-width="1.15" stroke-opacity="0.72"/>
<rect x="116.40" y="714.20" width="52.20" height="17.20" fill="none" stroke="#dd2030" stroke-width="1.15" stroke-opacity="0.72"/>
<line x1="116.40" y1="698.70" x2="168.60" y2="698.70" stroke="#c01828" stroke-width="1.0" stroke-opacity="0.6"/>
<line x1="116.40" y1="715.10" x2="168.60" y2="715.10" stroke="#c01828" stroke-width="1.0" stroke-opacity="0.6"/>
<line x1="129.40" y1="657.40" x2="129.40" y2="697.00" stroke="#c01828" stroke-width="1.0" stroke-opacity="0.6"/>
<text x="100.00" y="654.50" font-size="11.5" font-weight="bold" font-style="normal" text-anchor="middle" fill="#c41a2c" stroke="#c41a2c" stroke-width="0.5">I</text>
<text x="135.00" y="654.50" font-size="11.5" font-weight="bold" font-style="normal" text-anchor="middle" fill="#c41a2c" stroke="#c41a2c" stroke-width="0.5">II</text>
<text x="162.50" y="710.80" font-size="11.5" font-weight="bold" font-style="normal" text-anchor="middle" fill="#c41a2c" stroke="#c41a2c" stroke-width="0.5">III</text>
<text x="162.30" y="729.30" font-size="11.5" font-weight="bold" font-style="normal" text-anchor="middle" fill="#c41a2c" stroke="#c41a2c" stroke-width="0.5">IV</text>
<text x="177.60" y="532.70" font-size="8.6" font-weight="bold" font-style="normal" text-anchor="start" fill="#111"  stroke="#111" stroke-width="0.15">RI</text>
<text x="215.00" y="532.70" font-size="8.6" font-weight="bold" font-style="normal" text-anchor="end" fill="#111"  stroke="#111" stroke-width="0.15">1.9</text>
<text x="177.60" y="544.10" font-size="8.6" font-weight="bold" font-style="normal" text-anchor="start" fill="#111"  stroke="#111" stroke-width="0.15">RII</text>
<text x="215.00" y="544.10" font-size="8.6" font-weight="bold" font-style="normal" text-anchor="end" fill="#111"  stroke="#111" stroke-width="0.15">28.3</text>
<text x="177.60" y="555.50" font-size="8.6" font-weight="bold" font-style="normal" text-anchor="start" fill="#111"  stroke="#111" stroke-width="0.15">RIII</text>
<text x="215.00" y="555.50" font-size="8.6" font-weight="bold" font-style="normal" text-anchor="end" fill="#111"  stroke="#111" stroke-width="0.15">32.8</text>
<text x="177.60" y="566.90" font-size="8.6" font-weight="bold" font-style="normal" text-anchor="start" fill="#111"  stroke="#111" stroke-width="0.15">RIV</text>
<text x="215.00" y="566.90" font-size="8.6" font-weight="bold" font-style="normal" text-anchor="end" fill="#111"  stroke="#111" stroke-width="0.15">9.2</text>
<text x="177.60" y="648.10" font-size="8.6" font-weight="bold" font-style="normal" text-anchor="start" fill="#111"  stroke="#111" stroke-width="0.15">RI</text>
<text x="215.00" y="648.10" font-size="8.6" font-weight="bold" font-style="normal" text-anchor="end" fill="#111"  stroke="#111" stroke-width="0.15">16.9</text>
<text x="177.60" y="659.50" font-size="8.6" font-weight="bold" font-style="normal" text-anchor="start" fill="#111"  stroke="#111" stroke-width="0.15">RII</text>
<text x="215.00" y="659.50" font-size="8.6" font-weight="bold" font-style="normal" text-anchor="end" fill="#111"  stroke="#111" stroke-width="0.15">9.1</text>
<text x="177.60" y="670.90" font-size="8.6" font-weight="bold" font-style="normal" text-anchor="start" fill="#111"  stroke="#111" stroke-width="0.15">RIII</text>
<text x="215.00" y="670.90" font-size="8.6" font-weight="bold" font-style="normal" text-anchor="end" fill="#111"  stroke="#111" stroke-width="0.15">1.1</text>
<text x="177.60" y="682.30" font-size="8.6" font-weight="bold" font-style="normal" text-anchor="start" fill="#111"  stroke="#111" stroke-width="0.15">RIV</text>
<text x="215.00" y="682.30" font-size="8.6" font-weight="bold" font-style="normal" text-anchor="end" fill="#111"  stroke="#111" stroke-width="0.15">0.6</text>
</svg></body></html>
